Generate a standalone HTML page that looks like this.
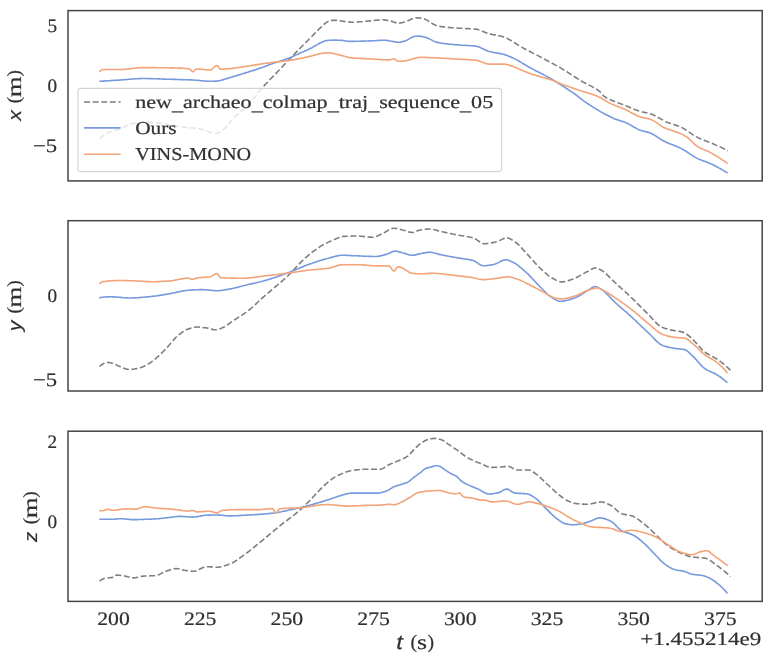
<!DOCTYPE html>
<html>
<head>
<meta charset="utf-8">
<title>Trajectory xyz plot</title>
<style>
html, body { margin: 0; padding: 0; background: #ffffff; }
body { width: 772px; height: 661px; overflow: hidden; font-family: "Liberation Serif", serif; }
svg { display: block; will-change: transform; }
svg text { text-rendering: geometricPrecision; }
</style>
</head>
<body>
<svg width="772" height="661" viewBox="0 0 772 661">
<rect x="0" y="0" width="772" height="661" fill="#ffffff"/>
<polyline points="99.5,138.6 100.5,137.8 101.5,137.0 102.5,136.2 103.5,135.4 104.5,134.7 105.5,134.1 106.5,133.5 106.6,133.5 107.5,133.1 108.5,132.6 109.5,132.2 110.5,131.9 111.5,131.5 112.5,131.2 113.5,130.9 114.5,130.6 115.5,130.3 116.5,130.0 117.5,129.7 118.5,129.4 119.5,129.1 120.5,128.7 121.5,128.4 122.2,128.1 122.5,128.0 123.5,127.5 124.5,127.0 125.5,126.5 126.5,125.9 127.5,125.4 128.5,125.0 129.5,124.6 130.0,124.4 130.5,124.2 131.5,123.9 132.5,123.7 133.5,123.4 134.5,123.2 135.5,123.0 136.5,122.8 137.0,122.8 137.5,122.8 138.5,122.7 139.5,122.6 140.5,122.6 141.5,122.5 142.5,122.4 143.5,122.4 144.5,122.4 145.5,122.3 146.5,122.3 147.5,122.3 148.0,122.3 148.5,122.3 149.5,122.3 150.5,122.4 151.5,122.4 152.5,122.5 153.5,122.6 154.5,122.7 155.5,122.8 156.5,122.9 157.5,123.0 158.5,123.1 159.5,123.3 160.5,123.4 161.5,123.5 162.5,123.7 163.5,123.8 164.5,123.9 165.0,124.0 165.5,124.1 166.5,124.2 167.5,124.4 168.5,124.5 169.5,124.7 170.5,124.9 171.5,125.1 172.5,125.3 173.5,125.5 174.5,125.7 175.5,125.9 176.5,126.1 177.5,126.3 178.5,126.4 179.5,126.6 180.5,126.8 181.5,127.0 182.5,127.1 183.3,127.2 183.5,127.2 184.5,127.3 185.5,127.4 186.5,127.5 187.5,127.6 188.5,127.7 189.5,127.8 190.5,127.9 191.5,128.0 192.5,128.0 193.5,128.1 194.5,128.2 195.5,128.3 196.5,128.4 197.5,128.5 198.5,128.6 199.5,128.8 199.6,128.8 200.5,129.0 201.5,129.2 202.5,129.5 203.5,129.8 204.5,130.2 205.5,130.6 206.5,130.9 207.5,131.3 208.5,131.7 209.5,132.1 210.5,132.5 211.5,132.8 212.5,133.1 213.5,133.3 214.5,133.4 215.5,133.5 215.9,133.5 216.5,133.5 217.5,133.2 218.5,132.8 219.5,132.3 220.5,131.6 221.5,131.0 222.5,130.3 222.9,130.0 223.5,129.6 224.5,128.7 225.5,127.8 226.5,126.7 227.5,125.6 228.5,124.4 229.5,123.1 230.5,121.9 231.5,120.6 232.5,119.4 233.5,118.3 234.5,117.2 234.6,117.1 235.5,116.2 236.5,115.3 237.5,114.3 238.5,113.4 239.5,112.5 240.5,111.7 241.5,110.8 242.5,109.9 243.5,109.0 244.5,108.1 245.5,107.2 246.5,106.3 247.5,105.3 248.5,104.3 249.5,103.2 250.5,102.1 251.5,101.0 252.5,99.8 253.5,98.6 254.5,97.4 255.5,96.2 256.5,94.9 257.5,93.7 258.5,92.4 259.5,91.2 260.5,90.0 261.5,88.8 262.5,87.6 263.5,86.5 264.5,85.4 265.5,84.3 266.5,83.2 267.5,82.2 268.5,81.1 269.5,80.1 270.5,79.0 271.5,78.0 272.5,77.0 273.5,75.9 274.5,74.9 275.5,73.9 276.5,72.8 276.7,72.6 277.5,71.8 278.5,70.7 279.5,69.7 280.5,68.6 281.5,67.6 282.5,66.5 283.5,65.5 284.5,64.4 285.5,63.4 286.5,62.4 287.5,61.3 288.5,60.3 289.5,59.2 290.0,58.7 290.5,58.2 291.5,57.1 292.5,56.1 293.5,55.0 294.5,54.0 295.5,52.9 296.5,51.9 297.5,50.8 298.5,49.8 299.5,48.7 300.4,47.8 300.5,47.7 301.5,46.7 302.5,45.7 303.5,44.7 304.5,43.7 305.5,42.7 306.5,41.7 307.5,40.7 308.5,39.7 309.5,38.7 310.5,37.7 310.7,37.5 311.5,36.7 312.5,35.7 313.5,34.6 314.5,33.6 315.5,32.6 316.5,31.6 317.5,30.6 318.5,29.6 319.5,28.6 320.5,27.6 321.1,27.1 321.5,26.7 322.5,25.8 323.5,24.8 324.5,23.9 325.5,23.1 326.5,22.4 327.3,21.9 327.5,21.8 328.5,21.3 329.5,20.9 330.5,20.5 331.5,20.4 332.5,20.4 333.5,20.4 334.5,20.4 335.5,20.4 336.5,20.4 336.6,20.4 337.5,20.4 338.5,20.5 339.5,20.7 340.5,20.8 341.5,21.0 342.5,21.2 343.5,21.4 343.9,21.4 344.5,21.5 345.5,21.6 346.5,21.7 347.5,21.9 348.5,22.0 349.5,22.1 350.5,22.1 351.5,22.2 352.2,22.2 352.5,22.2 353.5,22.2 354.5,22.2 355.5,22.1 356.5,22.0 357.5,22.0 358.5,21.9 359.5,21.8 360.5,21.8 361.5,21.7 362.5,21.6 363.5,21.5 364.5,21.4 365.5,21.3 366.5,21.2 367.5,21.1 368.5,21.0 369.5,20.9 370.0,20.9 370.5,20.9 371.5,20.7 372.5,20.6 373.5,20.5 374.5,20.4 375.5,20.3 376.5,20.2 377.5,20.1 378.5,20.0 379.5,19.9 380.5,19.8 381.5,19.8 382.2,19.8 382.5,19.8 383.5,19.8 384.5,19.9 385.5,20.1 386.5,20.2 387.5,20.4 388.5,20.6 389.2,20.7 389.5,20.8 390.5,21.0 391.5,21.3 392.5,21.6 393.5,22.0 394.5,22.3 395.5,22.6 396.5,22.9 397.5,23.0 398.5,23.1 399.5,23.1 400.5,22.9 401.5,22.7 402.5,22.5 403.5,22.2 404.5,22.0 405.5,21.7 406.5,21.4 407.5,21.0 408.5,20.5 409.5,20.0 410.5,19.5 411.5,19.1 412.5,18.7 413.5,18.4 413.7,18.4 414.5,18.3 415.5,18.1 416.5,18.0 417.5,17.9 418.2,17.9 418.5,17.9 419.5,18.0 420.5,18.1 421.5,18.3 422.5,18.5 423.5,18.8 424.0,18.9 424.5,19.0 425.5,19.4 426.5,19.9 427.5,20.5 428.5,21.1 429.5,21.8 430.5,22.4 431.5,23.1 432.5,23.7 433.5,24.3 434.5,24.8 435.5,25.2 435.6,25.2 436.5,25.5 437.5,25.8 438.5,26.0 439.5,26.2 440.5,26.5 441.5,26.6 442.5,26.8 442.6,26.8 443.5,26.9 444.5,27.0 445.5,27.1 446.5,27.3 447.5,27.4 448.5,27.4 449.5,27.5 450.5,27.6 451.5,27.7 452.5,27.8 453.5,27.8 454.5,27.9 455.5,28.0 456.5,28.0 457.5,28.1 458.5,28.2 459.0,28.2 459.5,28.2 460.5,28.3 461.5,28.3 462.5,28.4 463.5,28.4 464.5,28.5 465.5,28.5 466.5,28.6 467.5,28.6 468.5,28.6 469.5,28.7 470.5,28.7 471.5,28.8 472.5,28.9 473.5,28.9 474.5,29.0 475.3,29.1 475.5,29.1 476.5,29.3 477.5,29.5 478.5,29.8 479.5,30.1 480.5,30.4 481.5,30.8 482.5,31.2 483.5,31.7 484.5,32.1 485.5,32.5 486.5,32.9 487.5,33.2 488.5,33.6 489.3,33.8 489.5,33.9 490.5,34.1 491.5,34.3 492.5,34.5 493.5,34.7 494.5,34.9 495.5,35.1 496.5,35.3 497.5,35.4 498.5,35.6 499.5,35.8 500.5,36.1 501.5,36.3 502.5,36.6 503.3,36.8 503.5,36.9 504.5,37.2 505.5,37.6 506.5,38.1 507.5,38.6 508.5,39.2 509.5,39.7 510.5,40.3 511.5,40.9 512.5,41.4 512.6,41.5 513.5,42.0 514.5,42.7 515.5,43.3 516.5,44.0 517.5,44.6 518.5,45.3 519.5,45.9 520.0,46.2 520.5,46.5 521.5,47.1 522.5,47.6 523.5,48.2 524.5,48.7 525.5,49.3 526.5,49.8 527.5,50.3 528.5,50.8 529.5,51.3 530.5,51.8 531.5,52.4 532.5,52.9 533.5,53.4 534.5,53.9 535.5,54.4 536.5,54.9 537.5,55.4 538.5,55.9 539.5,56.5 540.5,57.0 540.7,57.1 541.5,57.5 542.5,58.1 543.5,58.6 544.5,59.1 545.5,59.7 546.5,60.2 547.5,60.7 548.5,61.3 549.5,61.8 550.5,62.4 551.5,62.9 552.5,63.4 553.5,64.0 554.5,64.5 555.5,65.1 556.5,65.6 557.5,66.2 558.5,66.8 559.5,67.3 560.5,67.9 561.5,68.5 562.5,69.1 563.5,69.7 564.5,70.3 565.5,70.9 566.5,71.5 567.5,72.2 568.5,72.8 569.5,73.4 570.5,74.1 571.5,74.7 572.5,75.4 573.5,76.0 574.5,76.7 575.5,77.3 576.5,78.0 577.5,78.6 578.5,79.2 579.5,79.8 580.5,80.5 581.5,81.1 582.2,81.5 582.5,81.7 583.5,82.3 584.5,82.8 585.5,83.3 586.5,83.9 587.5,84.4 588.5,84.9 589.5,85.4 590.5,85.9 591.5,86.4 592.5,86.9 593.5,87.5 594.5,88.0 595.5,88.6 596.5,89.3 597.5,89.9 598.5,90.6 599.5,91.4 600.0,91.8 600.5,92.3 601.5,93.4 602.5,94.7 603.5,95.8 603.9,96.1 604.5,96.5 605.5,97.2 606.5,97.8 607.5,98.3 608.5,98.9 609.5,99.4 610.5,99.8 611.5,100.3 612.5,100.7 613.5,101.1 614.5,101.5 615.5,101.9 616.5,102.3 617.5,102.6 618.5,103.0 619.5,103.3 620.5,103.7 621.5,104.0 622.5,104.4 623.5,104.8 624.5,105.1 625.5,105.5 625.9,105.7 626.5,106.0 627.5,106.4 628.5,106.8 629.5,107.2 630.5,107.7 631.5,108.1 632.5,108.5 633.5,109.0 634.5,109.4 635.5,109.8 636.5,110.1 637.5,110.5 638.5,110.9 639.5,111.2 639.6,111.2 640.5,111.5 641.5,111.7 642.5,112.0 643.5,112.2 644.5,112.4 645.5,112.6 646.5,112.8 647.5,113.1 648.5,113.3 649.5,113.6 650.5,113.9 650.6,113.9 651.5,114.2 652.5,114.6 653.5,115.0 654.5,115.5 655.5,116.0 656.5,116.5 657.5,117.1 658.5,117.7 659.5,118.2 660.5,118.8 661.5,119.4 662.5,119.9 663.5,120.5 664.5,121.0 665.5,121.5 666.5,121.9 667.1,122.2 667.5,122.4 668.5,122.8 669.5,123.1 670.5,123.5 671.5,123.8 672.5,124.1 673.5,124.4 674.5,124.8 675.5,125.1 676.5,125.4 677.5,125.8 678.5,126.1 679.5,126.5 680.5,127.0 680.8,127.1 681.5,127.4 682.5,127.9 683.5,128.5 684.5,129.1 685.5,129.7 686.5,130.4 687.5,131.0 688.5,131.7 689.5,132.4 690.5,133.1 691.5,133.8 692.5,134.5 693.5,135.1 694.5,135.7 695.5,136.3 696.5,136.9 697.3,137.3 697.5,137.4 698.5,137.9 699.5,138.3 700.5,138.8 701.5,139.2 702.5,139.6 703.5,140.0 704.5,140.4 705.5,140.8 706.5,141.2 707.5,141.6 708.5,141.9 709.5,142.3 710.5,142.7 711.5,143.1 712.5,143.5 713.5,144.0 713.8,144.1 714.5,144.4 715.5,144.9 716.5,145.3 717.5,145.8 718.5,146.2 719.5,146.7 720.5,147.1 721.5,147.6 722.5,148.1 723.5,148.6 724.5,149.0 725.5,149.5 726.5,150.0 727.5,150.5 727.9,150.7" fill="none" stroke="#7f7f7f" stroke-width="1.62" stroke-linejoin="round" stroke-dasharray="6.0 2.6"/>
<polyline points="99.3,81.3 100.3,81.2 101.3,81.2 102.3,81.1 103.3,81.1 104.3,81.0 105.3,80.9 106.3,80.9 107.3,80.8 108.3,80.7 109.3,80.7 110.3,80.6 111.3,80.6 112.3,80.5 113.3,80.4 114.3,80.4 115.3,80.3 116.3,80.3 117.3,80.2 118.3,80.1 119.3,80.1 120.3,80.0 121.3,79.9 122.3,79.9 123.3,79.8 124.3,79.7 125.3,79.6 126.3,79.5 127.3,79.5 128.3,79.4 129.3,79.3 130.3,79.2 131.3,79.1 132.3,79.0 133.3,79.0 134.3,78.9 135.3,78.8 136.3,78.8 137.3,78.7 138.3,78.6 139.3,78.6 140.3,78.6 141.3,78.5 142.3,78.5 143.3,78.5 143.6,78.5 144.3,78.5 145.3,78.5 146.3,78.5 147.3,78.5 148.3,78.6 149.3,78.6 150.3,78.6 151.3,78.6 152.3,78.7 153.3,78.7 154.3,78.7 155.3,78.8 156.3,78.8 157.3,78.8 158.3,78.9 159.3,78.9 160.3,79.0 161.3,79.0 162.3,79.0 163.3,79.1 164.3,79.1 165.3,79.1 166.3,79.2 166.9,79.2 167.3,79.2 168.3,79.2 169.3,79.3 170.3,79.3 171.3,79.3 172.3,79.4 173.3,79.4 174.3,79.4 175.3,79.4 176.3,79.5 177.3,79.5 178.3,79.5 179.3,79.5 180.3,79.6 181.3,79.6 182.3,79.6 183.3,79.7 184.3,79.7 185.3,79.7 186.3,79.8 187.3,79.8 188.3,79.8 189.3,79.9 190.3,79.9 191.3,79.9 192.3,80.0 192.6,80.0 193.3,80.0 194.3,80.1 195.3,80.2 196.3,80.2 197.3,80.3 198.3,80.4 199.3,80.5 200.3,80.6 201.3,80.7 202.3,80.8 203.3,80.9 204.3,81.0 205.3,81.0 206.3,81.1 207.3,81.2 208.3,81.2 209.3,81.3 210.3,81.3 211.2,81.3 211.3,81.3 212.3,81.3 213.3,81.3 214.3,81.2 215.3,81.1 216.3,81.1 217.3,81.0 218.2,80.9 218.3,80.9 219.3,80.7 220.3,80.5 221.3,80.2 222.3,79.9 223.3,79.6 224.3,79.3 225.2,79.0 225.3,79.0 226.3,78.7 227.3,78.4 228.3,78.1 229.3,77.8 230.3,77.5 231.3,77.2 232.3,76.9 233.3,76.6 234.3,76.3 235.3,76.0 236.3,75.7 237.3,75.4 238.3,75.1 239.3,74.8 240.3,74.5 241.3,74.2 242.3,73.8 243.3,73.5 244.3,73.2 245.3,72.9 246.3,72.6 247.3,72.3 248.3,72.0 248.5,71.9 249.3,71.6 250.3,71.3 251.3,71.0 252.3,70.7 253.3,70.4 254.3,70.1 255.3,69.8 256.3,69.5 257.3,69.1 258.3,68.8 259.3,68.5 260.3,68.1 261.3,67.8 262.3,67.5 263.3,67.1 264.3,66.7 265.3,66.3 266.3,65.9 267.3,65.5 268.3,65.1 269.3,64.7 270.3,64.3 270.7,64.2 271.3,64.0 272.3,63.6 273.3,63.3 274.3,62.9 275.3,62.6 276.3,62.3 277.3,62.0 278.3,61.7 279.3,61.3 280.3,61.0 281.3,60.7 282.3,60.4 283.3,60.1 284.3,59.7 285.3,59.4 286.3,59.1 287.3,58.7 288.3,58.3 289.3,58.0 290.0,57.7 290.3,57.6 291.3,57.2 292.3,56.7 293.3,56.3 294.3,55.8 295.3,55.4 296.3,54.9 297.3,54.4 298.3,54.0 299.3,53.5 300.3,53.0 300.4,53.0 301.3,52.6 302.3,52.1 303.3,51.7 304.3,51.3 305.3,50.8 306.3,50.4 307.3,49.9 308.3,49.5 309.3,49.0 310.3,48.5 310.7,48.3 311.3,48.0 312.3,47.5 313.3,46.9 314.3,46.3 315.3,45.7 316.3,45.1 317.3,44.6 318.3,44.0 319.3,43.5 320.3,43.0 321.1,42.6 321.3,42.5 322.3,42.0 323.3,41.6 324.3,41.1 325.3,40.8 326.3,40.6 327.3,40.5 328.3,40.4 329.3,40.3 330.3,40.2 331.3,40.2 332.3,40.1 333.3,40.1 333.5,40.1 334.3,40.1 335.3,40.1 336.3,40.1 337.3,40.2 338.3,40.2 339.3,40.3 340.3,40.3 341.3,40.4 341.8,40.4 342.3,40.4 343.3,40.5 344.3,40.7 345.3,40.8 346.3,41.0 347.3,41.2 348.3,41.3 349.3,41.4 350.1,41.4 350.3,41.4 351.3,41.4 352.3,41.4 353.3,41.4 354.3,41.3 355.3,41.3 356.3,41.3 357.3,41.3 358.3,41.2 359.3,41.2 360.3,41.2 361.3,41.1 362.3,41.1 362.5,41.1 363.3,41.1 364.3,41.1 365.3,41.0 366.3,41.0 367.3,41.0 368.3,41.0 369.3,40.9 370.0,40.9 370.3,40.9 371.3,40.9 372.3,40.8 373.3,40.8 374.3,40.7 375.3,40.7 376.3,40.6 377.3,40.5 378.3,40.5 379.3,40.4 380.3,40.4 381.3,40.4 382.3,40.3 383.3,40.3 384.3,40.3 384.6,40.3 385.3,40.3 386.3,40.4 387.3,40.5 388.3,40.6 389.3,40.8 390.3,41.0 391.3,41.2 392.3,41.4 393.3,41.6 394.3,41.8 395.3,41.9 396.3,42.1 397.3,42.2 398.3,42.2 398.5,42.2 399.3,42.2 400.3,42.1 401.3,41.9 402.3,41.7 403.3,41.4 404.3,41.1 405.3,40.9 405.5,40.8 406.3,40.5 407.3,40.0 408.3,39.4 409.3,38.8 410.3,38.1 411.3,37.5 412.3,37.0 413.3,36.7 413.7,36.6 414.3,36.5 415.3,36.3 416.3,36.2 417.3,36.1 418.2,36.1 418.3,36.1 419.3,36.1 420.3,36.3 421.3,36.4 422.3,36.6 423.3,36.8 424.3,37.1 425.2,37.3 425.3,37.3 426.3,37.6 427.3,38.0 428.3,38.4 429.3,38.9 430.3,39.4 431.3,39.9 432.3,40.4 433.3,40.9 434.3,41.4 435.3,41.8 436.3,42.1 437.3,42.4 438.0,42.6 438.3,42.7 439.3,42.8 440.3,43.0 441.3,43.2 442.3,43.3 443.3,43.5 444.3,43.6 445.3,43.7 446.3,43.8 447.3,43.9 448.3,44.1 449.3,44.2 450.3,44.3 451.3,44.3 452.3,44.4 453.3,44.5 454.3,44.6 455.3,44.7 456.3,44.8 457.3,44.9 458.3,44.9 459.0,45.0 459.3,45.0 460.3,45.1 461.3,45.2 462.3,45.2 463.3,45.3 464.3,45.3 465.3,45.4 466.3,45.4 467.3,45.5 468.3,45.5 469.3,45.6 470.3,45.7 471.3,45.7 472.3,45.8 473.3,45.9 474.3,46.0 475.3,46.1 476.3,46.3 477.3,46.5 478.3,46.8 479.3,47.2 480.3,47.6 481.3,48.1 482.3,48.5 483.3,49.0 484.3,49.5 485.3,50.0 486.3,50.4 487.3,50.8 488.3,51.2 489.3,51.5 490.3,51.8 491.3,52.0 492.3,52.2 493.3,52.4 494.3,52.6 495.3,52.7 496.3,52.9 497.3,53.1 498.3,53.2 499.3,53.4 500.3,53.6 501.3,53.8 502.3,54.0 503.3,54.3 504.3,54.6 505.3,54.9 506.3,55.2 507.3,55.6 508.3,56.0 509.3,56.4 510.3,56.8 511.3,57.2 512.3,57.7 512.6,57.8 513.3,58.1 514.3,58.6 515.3,59.1 516.3,59.6 517.3,60.1 518.3,60.7 519.3,61.3 520.3,61.9 521.3,62.5 522.3,63.1 523.3,63.7 524.3,64.3 525.3,64.9 526.3,65.5 527.3,66.1 528.3,66.7 529.3,67.2 530.3,67.8 531.2,68.3 531.3,68.4 532.3,68.9 533.3,69.4 534.3,69.9 535.3,70.5 536.3,71.0 537.3,71.5 538.3,72.0 539.3,72.5 540.3,73.0 541.3,73.5 542.3,74.0 543.3,74.5 544.3,75.1 545.3,75.6 546.3,76.1 547.3,76.7 548.3,77.2 549.3,77.8 549.9,78.1 550.3,78.3 551.3,78.9 552.3,79.5 553.3,80.1 554.3,80.7 555.3,81.3 556.3,82.0 557.3,82.6 558.3,83.2 559.3,83.9 560.0,84.3 560.3,84.5 561.3,85.1 562.3,85.8 563.3,86.4 564.3,87.0 565.3,87.7 566.3,88.3 567.3,89.0 568.3,89.6 569.3,90.3 570.3,91.0 571.3,91.6 572.3,92.3 573.3,93.0 573.7,93.3 574.3,93.7 575.3,94.5 576.3,95.2 577.3,96.0 578.3,96.8 579.3,97.5 580.3,98.3 581.3,99.1 582.3,99.9 583.3,100.6 584.3,101.3 584.7,101.6 585.3,102.0 586.3,102.7 587.3,103.4 588.3,104.0 589.3,104.7 590.3,105.4 591.3,106.0 592.3,106.7 593.3,107.3 594.3,107.9 595.3,108.5 596.3,109.1 597.3,109.7 598.3,110.3 599.3,110.9 600.3,111.5 601.2,112.0 601.3,112.1 602.3,112.6 603.3,113.2 604.3,113.7 605.3,114.3 606.3,114.8 607.3,115.3 608.3,115.8 609.3,116.3 610.3,116.8 611.3,117.3 612.3,117.8 613.3,118.2 614.3,118.7 614.9,118.9 615.3,119.1 616.3,119.4 617.3,119.8 618.3,120.1 619.3,120.4 620.3,120.8 621.3,121.1 622.3,121.4 623.3,121.7 624.3,122.1 625.3,122.5 625.9,122.7 626.3,122.9 627.3,123.3 628.3,123.8 629.3,124.4 630.3,124.9 631.3,125.5 632.3,126.1 633.3,126.7 634.3,127.3 635.3,127.8 636.3,128.4 637.3,128.9 638.3,129.4 639.3,129.8 639.6,129.9 640.3,130.2 641.3,130.5 642.3,130.8 643.3,131.1 644.3,131.3 645.3,131.6 646.3,131.8 647.3,132.1 648.3,132.4 649.3,132.7 650.3,133.1 650.6,133.2 651.3,133.5 652.3,134.0 653.3,134.5 654.3,135.1 655.3,135.7 656.3,136.3 657.3,137.0 658.3,137.7 659.3,138.3 660.3,139.0 661.3,139.6 662.3,140.2 663.3,140.8 664.3,141.4 664.4,141.4 665.3,141.8 666.3,142.3 667.3,142.7 668.3,143.2 669.3,143.6 670.3,144.0 671.3,144.3 672.3,144.7 673.3,145.1 674.3,145.5 675.3,145.9 676.3,146.3 677.3,146.7 678.3,147.1 679.3,147.6 680.3,148.1 680.8,148.3 681.3,148.6 682.3,149.1 683.3,149.7 684.3,150.3 685.3,150.9 686.3,151.5 687.3,152.2 688.3,152.9 689.3,153.6 690.3,154.2 691.3,154.9 692.3,155.5 693.3,156.2 694.3,156.8 695.3,157.4 696.3,157.9 697.3,158.4 698.3,158.9 699.3,159.3 700.3,159.7 701.3,160.1 702.3,160.5 703.3,160.9 704.3,161.2 705.3,161.6 706.3,162.0 707.3,162.4 708.3,162.7 709.3,163.2 710.3,163.6 711.0,163.9 711.3,164.0 712.3,164.5 713.3,165.0 714.3,165.5 715.3,166.0 716.3,166.5 717.3,167.0 718.3,167.6 719.3,168.1 720.3,168.7 721.3,169.3 722.3,169.9 723.3,170.4 724.3,171.0 725.3,171.7 726.3,172.3 727.3,172.9 727.6,173.1" fill="none" stroke="#779ade" stroke-width="1.62" stroke-linejoin="round"/>
<polyline points="99.3,71.8 100.3,71.0 101.3,70.1 102.3,69.6 102.8,69.5 103.3,69.5 104.3,69.5 105.3,69.5 106.3,69.5 107.3,69.5 108.3,69.5 109.3,69.5 110.3,69.5 111.3,69.5 112.3,69.5 113.3,69.5 114.3,69.5 115.3,69.5 116.3,69.5 117.3,69.5 118.3,69.5 119.3,69.5 120.3,69.5 121.3,69.5 122.3,69.5 123.3,69.4 124.3,69.4 125.3,69.3 126.3,69.2 127.3,69.1 128.3,69.0 129.3,68.9 130.3,68.8 131.3,68.6 132.3,68.5 133.3,68.4 134.3,68.3 135.3,68.2 136.3,68.0 137.3,67.9 138.3,67.9 139.3,67.8 140.3,67.7 141.3,67.7 142.3,67.6 143.3,67.6 143.6,67.6 144.3,67.6 145.3,67.6 146.3,67.6 147.3,67.6 148.3,67.6 149.3,67.6 150.3,67.6 151.3,67.6 152.3,67.6 153.3,67.6 154.3,67.6 155.3,67.7 156.3,67.7 157.3,67.7 158.3,67.7 159.3,67.7 160.3,67.7 161.3,67.7 162.3,67.7 163.3,67.7 164.3,67.8 165.3,67.8 166.3,67.8 166.9,67.8 167.3,67.8 168.3,67.8 169.3,67.8 170.3,67.9 171.3,67.9 172.3,67.9 173.3,67.9 174.3,67.9 175.3,68.0 176.3,68.0 177.3,68.0 178.3,68.1 179.3,68.1 180.3,68.1 181.3,68.2 182.3,68.2 183.3,68.3 184.3,68.4 185.3,68.5 186.3,68.5 187.3,68.6 188.3,68.7 189.1,68.8 189.3,68.8 190.3,69.5 191.3,70.6 192.3,71.5 193.1,71.8 193.3,71.8 194.3,70.8 195.3,69.5 196.1,69.0 196.3,69.0 197.3,69.0 198.3,69.1 199.3,69.1 200.3,69.2 201.3,69.3 202.3,69.4 203.3,69.5 204.3,69.6 205.3,69.7 206.3,69.7 207.3,69.8 208.3,69.9 209.3,69.9 210.1,69.9 210.3,69.9 211.3,69.6 212.3,68.9 213.3,68.0 214.3,67.0 215.3,66.2 216.3,65.7 217.1,65.5 217.3,65.5 218.3,66.5 219.3,68.0 220.3,69.1 220.6,69.2 221.3,69.2 222.3,69.2 223.3,69.1 224.3,69.1 225.3,69.0 226.3,69.0 227.3,68.9 228.3,68.8 229.3,68.7 230.3,68.6 231.3,68.5 232.3,68.4 233.3,68.2 234.3,68.1 235.3,68.0 236.3,67.8 237.3,67.7 238.3,67.5 239.3,67.4 240.3,67.2 241.3,67.1 242.3,66.9 243.3,66.8 244.3,66.6 245.3,66.5 246.3,66.3 247.3,66.2 248.3,66.0 248.5,66.0 249.3,65.9 250.3,65.7 251.3,65.6 252.3,65.4 253.3,65.3 254.3,65.1 255.3,64.9 256.3,64.7 257.3,64.6 258.3,64.4 259.3,64.2 260.3,64.1 261.3,63.9 262.3,63.7 263.3,63.6 264.3,63.5 265.3,63.3 266.3,63.2 267.3,63.1 268.3,62.9 269.3,62.8 270.3,62.7 271.3,62.6 272.3,62.5 273.3,62.3 274.3,62.2 275.3,62.1 276.3,62.0 277.3,61.9 278.3,61.8 279.3,61.7 280.3,61.6 281.3,61.4 282.3,61.3 283.3,61.2 284.3,61.1 285.3,60.9 286.3,60.8 287.3,60.7 288.3,60.5 289.3,60.4 290.0,60.3 290.3,60.3 291.3,60.1 292.3,59.9 293.3,59.8 294.3,59.6 295.3,59.4 296.3,59.3 297.3,59.1 298.3,58.9 299.3,58.7 300.3,58.5 300.4,58.5 301.3,58.3 302.3,58.1 303.3,57.9 304.3,57.7 305.3,57.4 306.3,57.2 307.3,56.9 308.3,56.7 309.3,56.4 310.3,56.2 310.7,56.1 311.3,56.0 312.3,55.7 313.3,55.4 314.3,55.1 315.3,54.8 316.3,54.6 317.3,54.3 318.3,54.0 319.3,53.8 320.3,53.6 321.1,53.5 321.3,53.5 322.3,53.3 323.3,53.2 324.3,53.1 325.3,53.0 326.3,52.9 327.3,52.8 328.3,52.8 329.3,52.8 330.3,52.9 331.3,53.1 332.3,53.3 333.3,53.5 334.3,53.7 335.3,53.9 335.6,54.0 336.3,54.1 337.3,54.4 338.3,54.6 339.3,54.9 340.3,55.1 341.3,55.4 342.3,55.7 343.3,55.9 343.9,56.1 344.3,56.2 345.3,56.5 346.3,56.8 347.3,57.1 348.3,57.4 349.3,57.6 350.1,57.7 350.3,57.7 351.3,57.8 352.3,57.9 353.3,58.0 354.3,58.1 355.3,58.1 356.3,58.2 357.3,58.2 358.3,58.3 359.3,58.3 360.3,58.4 360.5,58.4 361.3,58.4 362.3,58.5 363.3,58.6 364.3,58.6 365.3,58.7 366.3,58.7 367.3,58.8 368.3,58.8 369.3,58.9 370.0,58.9 370.3,58.9 371.3,59.0 372.3,59.0 373.3,59.1 374.3,59.2 375.3,59.2 376.3,59.3 377.3,59.4 378.3,59.4 379.3,59.5 380.3,59.6 381.3,59.6 382.3,59.7 383.3,59.7 384.3,59.8 385.3,59.8 386.3,59.9 387.3,59.9 388.3,59.9 389.2,59.9 389.3,59.9 390.3,59.8 391.3,59.5 392.3,59.2 393.3,59.0 393.9,59.0 394.3,59.0 395.3,59.5 396.3,60.2 397.3,60.9 398.3,61.3 398.5,61.3 399.3,61.3 400.3,61.3 401.3,61.2 402.3,61.1 403.3,61.0 404.3,60.9 405.3,60.8 405.5,60.8 406.3,60.7 407.3,60.5 408.3,60.3 409.3,60.0 410.3,59.7 411.3,59.4 412.3,59.1 413.3,58.8 414.3,58.4 415.3,58.1 416.3,57.9 417.3,57.7 418.3,57.5 419.3,57.4 420.3,57.3 420.5,57.3 421.3,57.3 422.3,57.3 423.3,57.3 424.3,57.4 425.3,57.4 426.3,57.5 427.3,57.5 428.3,57.5 429.3,57.6 430.3,57.7 431.3,57.7 432.3,57.8 433.3,57.8 434.3,57.8 435.3,57.9 436.3,57.9 437.3,58.0 438.3,58.0 439.3,58.1 440.3,58.1 441.3,58.2 442.3,58.2 443.3,58.3 444.3,58.3 445.3,58.4 446.3,58.4 447.3,58.5 448.3,58.5 449.3,58.6 450.3,58.6 451.3,58.7 452.3,58.7 453.3,58.8 454.3,58.9 455.3,58.9 456.3,59.0 456.6,59.0 457.3,59.0 458.3,59.1 459.3,59.2 460.3,59.2 461.3,59.3 462.3,59.3 463.3,59.4 464.3,59.4 465.3,59.5 466.3,59.5 467.3,59.6 468.3,59.7 469.3,59.7 470.3,59.8 471.3,59.9 472.3,60.0 473.3,60.1 474.3,60.2 475.3,60.3 476.3,60.4 476.4,60.4 477.3,60.5 478.3,60.8 479.3,61.1 480.3,61.4 481.3,61.8 482.3,62.2 483.3,62.6 484.3,63.0 485.3,63.4 486.3,63.7 487.3,63.9 488.3,64.0 489.3,64.1 490.3,64.1 491.3,64.1 492.3,64.1 493.3,64.1 494.3,64.1 495.3,64.1 496.3,64.1 497.3,64.1 498.3,64.1 499.3,64.1 500.3,64.1 501.3,64.1 502.3,64.1 503.3,64.1 504.3,64.1 505.3,64.3 506.3,64.4 507.3,64.7 508.3,64.9 509.3,65.2 510.3,65.6 511.3,65.9 512.3,66.2 512.6,66.3 513.3,66.5 514.3,66.9 515.3,67.3 516.3,67.8 517.3,68.3 518.3,68.7 519.3,69.2 520.0,69.5 520.3,69.6 521.3,70.0 522.3,70.5 523.3,70.9 524.3,71.3 525.3,71.7 526.3,72.1 527.3,72.5 528.3,72.9 529.3,73.3 530.3,73.7 530.4,73.7 531.3,74.0 532.3,74.3 533.3,74.6 534.3,74.9 535.3,75.2 536.3,75.5 537.3,75.8 538.3,76.1 539.3,76.4 540.3,76.7 540.7,76.8 541.3,77.0 542.3,77.3 543.3,77.6 544.3,77.8 545.3,78.1 546.3,78.4 547.3,78.7 548.3,79.0 549.3,79.3 550.3,79.6 551.1,79.9 551.3,80.0 552.3,80.3 553.3,80.7 554.3,81.1 555.3,81.5 556.3,81.9 557.3,82.3 558.3,82.7 559.3,83.1 560.3,83.5 561.3,83.9 561.5,84.0 562.3,84.3 563.3,84.7 564.3,85.0 565.3,85.4 566.3,85.8 567.3,86.1 568.3,86.5 569.3,86.8 570.3,87.2 571.3,87.5 571.8,87.7 572.3,87.9 573.3,88.2 574.3,88.6 575.3,88.9 576.3,89.3 577.3,89.6 578.3,90.0 579.3,90.3 580.3,90.7 581.3,91.0 582.2,91.3 582.3,91.3 583.3,91.6 584.3,91.9 585.3,92.2 586.3,92.5 587.3,92.8 588.3,93.1 589.3,93.4 590.3,93.7 591.3,94.0 592.3,94.3 592.5,94.4 593.3,94.7 594.3,95.1 595.3,95.4 596.3,95.8 597.3,96.3 598.3,96.7 599.3,97.2 600.0,97.5 600.3,97.6 601.3,98.2 602.3,98.7 603.3,99.4 604.3,100.0 605.3,100.6 606.3,101.2 607.3,101.9 608.3,102.4 609.3,103.0 609.4,103.0 610.3,103.4 611.3,103.9 612.3,104.3 613.3,104.8 614.3,105.2 615.3,105.6 616.3,106.0 617.3,106.3 618.3,106.7 619.3,107.1 620.3,107.5 621.3,107.9 622.3,108.3 623.3,108.7 624.3,109.1 625.3,109.5 625.9,109.8 626.3,110.0 627.3,110.5 628.3,111.0 629.3,111.5 630.3,112.1 631.3,112.7 632.3,113.2 633.3,113.8 634.3,114.3 635.3,114.8 636.3,115.3 637.3,115.8 638.3,116.2 639.3,116.6 639.6,116.7 640.3,116.9 641.3,117.2 642.3,117.4 643.3,117.7 644.3,117.9 645.3,118.1 646.3,118.3 647.3,118.5 648.3,118.7 649.3,119.0 650.3,119.3 650.6,119.4 651.3,119.7 652.3,120.1 653.3,120.6 654.3,121.2 655.3,121.9 656.3,122.5 657.3,123.2 658.3,123.9 659.3,124.6 660.3,125.3 661.3,126.0 662.3,126.6 663.3,127.2 664.3,127.7 664.4,127.7 665.3,128.1 666.3,128.5 667.3,128.9 668.3,129.3 669.3,129.6 670.3,130.0 671.3,130.3 672.3,130.6 673.3,130.9 674.3,131.3 675.3,131.6 676.3,131.9 677.3,132.3 678.3,132.7 679.3,133.1 680.3,133.5 680.8,133.7 681.3,133.9 682.3,134.4 683.3,134.9 684.3,135.5 685.3,136.1 686.3,136.7 687.3,137.4 688.3,138.2 689.3,139.1 690.3,140.1 691.3,141.0 692.3,142.0 693.3,143.0 694.3,143.9 695.3,144.8 696.3,145.6 697.3,146.3 698.3,146.9 699.3,147.5 700.3,148.0 701.3,148.5 702.3,148.9 703.3,149.4 704.3,149.8 705.3,150.2 706.3,150.7 707.3,151.1 708.3,151.5 709.3,152.0 710.3,152.5 711.0,152.9 711.3,153.1 712.3,153.6 713.3,154.2 714.3,154.8 715.3,155.4 716.3,156.0 717.3,156.6 718.3,157.2 719.3,157.9 720.3,158.5 721.3,159.2 722.3,159.9 723.3,160.5 724.3,161.2 725.3,161.9 726.3,162.7 727.3,163.4 727.6,163.6" fill="none" stroke="#f3a479" stroke-width="1.62" stroke-linejoin="round"/>
<polyline points="99.5,366.4 100.5,365.6 101.5,364.8 102.5,364.2 103.5,363.6 104.5,363.1 105.5,362.8 106.5,362.6 107.5,362.5 108.5,362.5 109.5,362.6 110.5,362.8 111.5,363.0 112.5,363.2 113.3,363.4 113.5,363.5 114.5,363.8 115.5,364.4 116.5,364.9 117.5,365.5 118.0,365.7 118.5,365.9 119.5,366.3 120.5,366.8 121.5,367.2 122.5,367.7 123.5,368.1 124.5,368.4 125.5,368.8 126.5,369.1 127.5,369.3 128.5,369.4 129.5,369.5 129.6,369.5 130.5,369.5 131.5,369.4 132.5,369.3 133.5,369.2 134.5,369.0 135.5,368.8 136.5,368.6 137.5,368.4 138.5,368.2 139.0,368.1 139.5,368.0 140.5,367.7 141.5,367.3 142.5,367.0 143.5,366.5 144.5,366.0 145.5,365.5 146.5,365.0 147.5,364.4 148.5,363.8 149.5,363.2 150.5,362.6 150.6,362.5 151.5,361.9 152.5,361.2 153.5,360.5 154.5,359.7 155.5,358.8 156.5,357.9 157.5,357.0 158.5,356.1 159.5,355.1 160.5,354.1 161.5,353.2 162.5,352.2 163.5,351.2 164.5,350.2 164.6,350.1 165.5,349.2 166.5,348.1 167.5,347.0 168.5,345.9 169.5,344.7 170.5,343.5 171.5,342.3 172.5,341.2 173.5,340.0 174.5,338.9 175.5,337.8 176.5,336.8 177.5,335.9 178.5,335.1 178.6,335.0 179.5,334.3 180.5,333.5 181.5,332.8 182.5,332.0 183.5,331.4 184.5,330.7 185.5,330.2 186.5,329.7 187.5,329.2 187.9,329.1 188.5,328.9 189.5,328.6 190.5,328.3 191.5,328.0 192.5,327.7 193.5,327.4 194.5,327.3 195.5,327.1 196.5,327.0 197.3,327.0 197.5,327.0 198.5,327.0 199.5,327.1 200.5,327.2 201.5,327.3 202.5,327.4 203.5,327.6 204.5,327.7 205.5,327.8 206.5,328.0 206.6,328.0 207.5,328.1 208.5,328.4 209.5,328.6 210.5,328.9 211.5,329.1 212.5,329.4 213.5,329.6 214.5,329.7 215.5,329.8 215.9,329.8 216.5,329.8 217.5,329.6 218.5,329.3 219.5,329.0 220.5,328.6 221.5,328.1 222.5,327.7 222.9,327.5 223.5,327.2 224.5,326.7 225.5,326.2 226.5,325.5 227.5,324.9 228.5,324.2 229.5,323.5 230.5,322.7 231.5,322.0 232.5,321.3 233.5,320.6 234.5,319.9 234.6,319.8 235.5,319.2 236.5,318.6 237.5,317.9 238.5,317.3 239.5,316.6 240.5,316.0 241.5,315.4 242.5,314.7 243.5,314.1 244.5,313.4 245.5,312.7 246.5,312.0 247.5,311.3 248.5,310.5 249.5,309.7 250.5,308.9 251.5,308.0 252.5,307.1 253.5,306.2 254.5,305.3 255.5,304.4 256.5,303.4 257.5,302.5 258.5,301.5 259.5,300.6 260.5,299.6 261.5,298.7 262.5,297.8 263.3,297.1 263.5,296.9 264.5,296.1 265.5,295.2 266.5,294.3 267.5,293.5 268.5,292.6 269.5,291.8 270.5,290.9 271.5,290.1 272.5,289.3 273.5,288.4 274.5,287.6 275.5,286.7 276.5,285.9 277.5,285.0 278.5,284.1 279.5,283.3 280.5,282.4 281.5,281.6 282.5,280.7 283.5,279.8 284.5,278.9 285.5,278.0 286.5,277.1 286.6,277.0 287.5,276.2 288.5,275.2 289.5,274.2 290.5,273.2 291.5,272.2 292.5,271.2 293.5,270.1 294.5,269.0 295.5,267.9 296.5,266.8 297.5,265.8 298.5,264.7 299.5,263.6 300.5,262.6 301.5,261.6 301.8,261.3 302.5,260.6 303.5,259.7 304.5,258.8 305.5,257.8 306.5,256.9 307.5,256.1 308.5,255.2 309.5,254.4 310.5,253.5 311.5,252.7 312.2,252.2 312.5,252.0 313.5,251.2 314.5,250.5 315.5,249.8 316.5,249.0 317.5,248.4 318.5,247.7 319.5,247.0 320.5,246.4 321.5,245.8 322.5,245.2 323.5,244.6 324.5,244.1 325.5,243.6 326.5,243.1 327.5,242.6 328.5,242.1 329.5,241.6 330.0,241.4 330.5,241.2 331.5,240.7 332.5,240.3 333.5,239.8 334.5,239.4 335.5,239.0 336.0,238.8 336.5,238.6 337.5,238.2 338.5,237.7 339.5,237.3 340.5,236.9 341.5,236.7 342.5,236.5 342.6,236.5 343.5,236.4 344.5,236.4 345.5,236.3 346.5,236.3 347.5,236.2 348.5,236.2 349.5,236.1 350.5,236.1 351.5,236.1 352.5,236.0 353.5,236.0 354.5,236.0 355.5,236.0 356.5,236.0 356.6,236.0 357.5,236.0 358.5,236.0 359.5,236.1 360.5,236.2 361.5,236.3 362.5,236.4 363.5,236.5 364.5,236.6 365.5,236.7 366.5,236.8 367.5,236.9 368.5,237.0 369.5,237.1 370.5,237.1 371.5,237.2 372.5,237.2 372.9,237.2 373.5,237.2 374.5,237.0 375.5,236.7 376.5,236.4 377.5,236.0 378.5,235.5 379.5,235.0 380.5,234.5 381.5,234.0 382.2,233.7 382.5,233.6 383.5,233.1 384.5,232.5 385.5,232.0 386.5,231.3 387.5,230.7 388.5,230.1 389.5,229.6 390.5,229.1 391.5,228.7 392.5,228.5 393.5,228.3 393.9,228.3 394.5,228.3 395.5,228.4 396.5,228.5 397.5,228.7 398.5,229.0 399.5,229.2 400.5,229.5 401.5,229.8 402.5,230.0 403.2,230.2 403.5,230.3 404.5,230.5 405.5,230.8 406.5,231.2 407.5,231.5 408.5,231.8 409.5,232.1 410.5,232.3 411.5,232.4 412.5,232.5 413.5,232.4 414.5,232.1 415.5,231.7 416.5,231.2 417.5,230.8 418.5,230.4 419.3,230.2 419.5,230.2 420.5,230.0 421.5,229.8 422.5,229.7 423.5,229.5 424.5,229.4 425.5,229.3 426.5,229.2 427.5,229.1 428.5,229.0 429.5,229.0 429.8,229.0 430.5,229.0 431.5,229.1 432.5,229.3 433.5,229.5 434.5,229.7 435.5,230.0 436.5,230.3 437.5,230.6 438.5,230.9 439.5,231.1 440.3,231.3 440.5,231.3 441.5,231.6 442.5,231.8 443.5,232.0 444.5,232.2 445.5,232.4 446.5,232.7 447.5,232.9 448.5,233.1 449.5,233.3 450.5,233.5 451.5,233.7 452.5,234.0 453.5,234.2 454.5,234.4 455.5,234.6 456.5,234.8 456.6,234.8 457.5,235.0 458.5,235.2 459.5,235.3 460.5,235.5 461.5,235.7 462.5,235.8 463.5,236.0 464.5,236.1 465.5,236.3 466.5,236.5 467.5,236.7 468.5,236.8 469.5,237.0 470.5,237.3 471.5,237.5 472.5,237.8 473.0,237.9 473.5,238.1 474.5,238.5 475.5,239.0 476.5,239.6 477.5,240.3 478.5,241.0 479.5,241.7 480.5,242.3 481.5,242.8 482.5,243.3 483.5,243.6 484.5,243.7 484.6,243.7 485.5,243.7 486.5,243.6 487.5,243.5 488.5,243.4 489.5,243.3 490.5,243.1 491.5,242.9 492.5,242.7 493.5,242.4 494.5,242.2 495.5,242.0 496.3,241.8 496.5,241.8 497.5,241.4 498.5,241.0 499.5,240.6 500.5,240.1 501.5,239.6 502.5,239.1 503.5,238.7 504.5,238.3 505.5,238.0 506.5,237.9 506.8,237.9 507.5,237.9 508.5,238.2 509.5,238.5 510.5,239.0 511.5,239.6 512.5,240.2 513.5,240.9 514.5,241.5 514.9,241.8 515.5,242.2 516.5,243.0 517.5,243.8 518.5,244.7 519.5,245.7 520.5,246.8 521.5,247.9 522.5,249.0 523.5,250.1 524.5,251.2 525.5,252.3 526.5,253.4 526.6,253.5 527.5,254.4 528.5,255.5 529.5,256.6 530.5,257.7 531.5,258.9 532.5,260.0 533.5,261.1 534.5,262.3 535.5,263.4 536.5,264.5 537.5,265.5 538.5,266.6 539.5,267.6 540.5,268.5 540.6,268.6 541.5,269.4 542.5,270.4 543.5,271.3 544.5,272.2 545.5,273.1 546.5,273.9 547.5,274.8 548.5,275.6 549.5,276.3 550.5,277.0 551.5,277.6 552.2,278.0 552.5,278.2 553.5,278.7 554.5,279.3 555.5,279.9 556.5,280.4 557.5,280.9 558.5,281.3 559.5,281.6 560.5,281.8 561.5,281.9 561.6,281.9 562.5,281.9 563.5,281.8 564.5,281.6 565.5,281.4 566.5,281.2 567.5,280.9 568.5,280.6 569.5,280.2 570.5,279.9 571.5,279.5 572.5,279.2 573.5,278.8 574.5,278.4 575.5,278.0 576.5,277.5 577.5,277.0 578.5,276.5 579.5,275.9 580.5,275.4 581.5,274.8 582.5,274.2 583.5,273.6 584.5,273.1 585.5,272.5 586.5,272.0 587.5,271.5 588.5,271.0 589.5,270.4 590.5,269.8 591.5,269.3 592.5,268.8 593.5,268.3 594.5,268.0 595.5,267.9 595.7,267.9 596.5,268.0 597.5,268.2 598.5,268.7 599.5,269.2 600.5,269.7 601.2,270.1 601.5,270.3 602.5,270.9 603.5,271.6 604.5,272.4 605.5,273.2 606.5,274.1 607.5,275.1 608.5,276.1 609.5,277.1 610.5,278.1 611.5,279.2 612.5,280.2 613.5,281.2 614.5,282.1 614.9,282.5 615.5,283.0 616.5,284.0 617.5,284.9 618.5,285.8 619.5,286.7 620.5,287.6 621.5,288.5 622.5,289.4 623.5,290.3 624.5,291.2 625.5,292.1 626.5,293.0 627.5,293.9 628.5,294.9 629.5,295.8 630.5,296.7 631.4,297.6 631.5,297.7 632.5,298.7 633.5,299.6 634.5,300.6 635.5,301.6 636.5,302.6 637.5,303.6 638.5,304.6 639.5,305.6 640.5,306.6 641.5,307.6 642.5,308.6 643.5,309.6 644.5,310.6 645.5,311.6 646.5,312.6 647.5,313.6 647.9,314.0 648.5,314.6 649.5,315.6 650.5,316.7 651.5,317.8 652.5,318.9 653.5,320.0 654.5,321.1 655.5,322.1 656.5,323.1 657.5,324.1 658.5,325.0 659.5,325.7 660.5,326.4 661.5,327.0 661.6,327.0 662.5,327.4 663.5,327.8 664.5,328.2 665.5,328.5 666.5,328.8 667.5,329.1 668.5,329.4 669.5,329.6 669.8,329.7 670.5,329.9 671.5,330.1 672.5,330.3 673.5,330.4 674.5,330.6 675.5,330.7 676.5,330.9 677.5,331.0 678.5,331.2 679.5,331.4 680.5,331.6 681.5,331.8 682.5,332.1 683.5,332.4 683.6,332.4 684.5,332.8 685.5,333.3 686.5,334.0 687.5,334.8 688.5,335.5 689.1,336.0 689.5,336.3 690.5,337.2 691.5,338.1 692.5,339.1 693.5,340.1 694.5,341.2 695.5,342.3 696.5,343.4 697.5,344.6 698.5,345.7 699.5,346.8 700.5,347.9 701.5,349.0 702.5,350.0 703.5,350.9 704.5,351.7 705.5,352.5 706.5,353.2 707.5,353.8 708.5,354.4 709.5,354.9 710.5,355.5 711.5,356.0 712.5,356.5 713.5,357.0 714.5,357.6 715.5,358.2 716.5,358.8 717.5,359.5 718.5,360.2 719.5,360.9 720.5,361.7 721.5,362.4 722.5,363.2 723.5,364.0 724.5,364.9 725.5,365.7 726.5,366.6 727.5,367.5 728.5,368.4 729.5,369.3 730.5,370.3" fill="none" stroke="#7f7f7f" stroke-width="1.62" stroke-linejoin="round" stroke-dasharray="6.0 2.6"/>
<polyline points="99.3,297.7 100.3,297.6 101.3,297.4 102.3,297.3 103.3,297.2 104.3,297.1 105.3,297.0 106.3,297.0 107.3,296.9 108.3,296.9 109.3,296.8 110.3,296.8 111.0,296.8 111.3,296.8 112.3,296.8 113.3,296.9 114.3,296.9 115.3,297.0 116.3,297.0 117.3,297.1 118.3,297.2 119.3,297.3 120.3,297.4 121.3,297.5 122.3,297.6 123.3,297.7 124.3,297.8 125.3,297.8 126.3,297.9 127.3,297.9 128.3,298.0 129.3,298.0 129.6,298.0 130.3,298.0 131.3,298.0 132.3,298.0 133.3,297.9 134.3,297.9 135.3,297.8 136.3,297.8 137.3,297.7 138.3,297.7 139.3,297.6 140.3,297.5 141.3,297.4 142.3,297.3 143.3,297.2 144.3,297.2 145.3,297.1 146.3,297.0 147.3,296.9 148.3,296.8 149.3,296.7 150.3,296.6 151.3,296.5 152.3,296.4 153.3,296.3 154.3,296.1 155.3,296.0 156.3,295.9 157.3,295.7 158.3,295.6 159.3,295.4 160.3,295.3 161.3,295.1 162.3,294.9 163.3,294.8 164.3,294.6 165.3,294.5 166.3,294.3 167.3,294.1 168.3,294.0 169.3,293.8 170.3,293.6 171.3,293.4 172.3,293.2 173.3,293.0 174.3,292.8 175.3,292.6 176.3,292.4 177.3,292.1 178.3,291.9 179.3,291.7 180.3,291.5 181.3,291.3 182.3,291.1 183.3,290.9 184.3,290.7 185.3,290.6 186.3,290.5 187.3,290.4 187.9,290.3 188.3,290.3 189.3,290.2 190.3,290.1 191.3,290.0 192.3,290.0 193.3,289.9 194.3,289.8 195.3,289.8 196.3,289.7 197.3,289.7 198.3,289.7 199.3,289.6 200.3,289.6 201.3,289.6 201.9,289.6 202.3,289.6 203.3,289.6 204.3,289.7 205.3,289.7 206.3,289.8 207.3,289.9 208.3,290.0 209.3,290.1 210.3,290.2 211.3,290.3 212.3,290.4 213.3,290.5 214.3,290.6 215.3,290.7 216.3,290.7 217.1,290.7 217.3,290.7 218.3,290.7 219.3,290.6 220.3,290.5 221.3,290.4 222.3,290.2 223.3,290.1 224.3,289.9 225.2,289.8 225.3,289.8 226.3,289.6 227.3,289.5 228.3,289.3 229.3,289.1 230.3,288.9 231.3,288.7 232.3,288.5 233.3,288.3 234.3,288.0 235.3,287.8 236.3,287.6 237.3,287.3 238.3,287.1 239.3,286.8 240.3,286.5 241.3,286.3 242.3,286.0 243.3,285.8 244.3,285.5 245.3,285.3 246.3,285.0 247.3,284.8 248.3,284.5 248.5,284.5 249.3,284.3 250.3,284.1 251.3,283.9 252.3,283.6 253.3,283.4 254.3,283.2 255.3,283.0 256.3,282.7 257.3,282.5 258.3,282.3 259.3,282.0 260.3,281.8 261.3,281.5 262.3,281.3 263.3,281.0 264.3,280.7 265.3,280.4 266.3,280.2 267.3,279.9 268.3,279.6 269.3,279.2 270.3,278.9 271.3,278.6 272.3,278.3 273.3,278.0 274.3,277.6 275.3,277.3 276.3,277.0 277.3,276.6 278.3,276.3 279.3,275.9 280.3,275.6 281.3,275.2 282.3,274.8 283.3,274.5 284.3,274.1 285.3,273.8 286.3,273.4 286.6,273.3 287.3,273.0 288.3,272.7 289.3,272.3 290.3,271.9 291.3,271.5 292.3,271.1 293.3,270.7 294.3,270.3 295.3,269.9 296.3,269.4 297.3,269.0 298.3,268.6 299.3,268.2 300.3,267.8 301.3,267.3 302.3,266.9 303.3,266.5 304.3,266.1 305.3,265.7 306.3,265.3 307.3,264.9 308.3,264.6 309.3,264.2 309.9,264.0 310.3,263.9 311.3,263.5 312.3,263.2 313.3,262.8 314.3,262.5 315.3,262.1 316.3,261.8 317.3,261.5 318.3,261.1 319.3,260.8 320.3,260.5 321.3,260.2 322.3,259.9 323.3,259.6 324.3,259.3 325.3,259.1 326.3,258.8 327.3,258.5 328.3,258.3 329.3,258.0 330.3,257.7 331.3,257.4 332.3,257.1 333.3,256.8 334.3,256.6 335.3,256.3 336.3,256.1 337.3,255.9 338.3,255.7 339.3,255.5 340.3,255.4 341.3,255.3 342.3,255.3 342.6,255.3 343.3,255.3 344.3,255.3 345.3,255.3 346.3,255.4 347.3,255.4 348.3,255.4 349.3,255.5 350.3,255.5 351.3,255.6 352.3,255.6 353.3,255.7 354.3,255.7 355.3,255.7 356.3,255.8 356.6,255.8 357.3,255.8 358.3,255.9 359.3,255.9 360.3,256.0 361.3,256.0 362.3,256.1 363.3,256.1 364.3,256.2 365.3,256.2 366.3,256.3 367.3,256.3 368.3,256.3 369.3,256.4 370.3,256.4 371.3,256.4 372.3,256.5 373.3,256.5 374.3,256.5 375.2,256.5 375.3,256.5 376.3,256.5 377.3,256.4 378.3,256.3 379.3,256.1 380.3,255.9 381.3,255.7 382.3,255.4 383.3,255.2 384.3,254.9 385.3,254.6 386.3,254.4 386.9,254.2 387.3,254.1 388.3,253.7 389.3,253.2 390.3,252.7 391.3,252.2 392.3,251.7 393.3,251.4 394.3,251.2 395.0,251.1 395.3,251.1 396.3,251.2 397.3,251.4 398.3,251.6 399.3,251.9 400.3,252.2 401.3,252.5 402.3,252.8 403.2,253.0 403.3,253.0 404.3,253.3 405.3,253.6 406.3,253.9 407.3,254.3 408.3,254.6 409.3,254.8 410.3,255.1 411.3,255.2 412.3,255.3 412.5,255.3 413.3,255.3 414.3,255.1 415.3,254.9 416.3,254.6 417.3,254.4 418.3,254.1 419.3,253.9 420.3,253.7 421.3,253.5 422.3,253.3 423.3,253.1 424.3,252.9 425.3,252.7 426.3,252.6 427.3,252.4 428.3,252.4 429.3,252.3 429.8,252.3 430.3,252.3 431.3,252.4 432.3,252.5 433.3,252.7 434.3,253.0 435.3,253.3 436.3,253.5 437.3,253.8 438.3,254.1 439.3,254.4 440.3,254.6 441.3,254.8 442.3,255.0 443.3,255.2 444.3,255.4 445.3,255.6 446.3,255.8 447.3,256.0 448.3,256.2 449.3,256.4 450.3,256.5 451.3,256.7 452.3,256.9 453.3,257.1 454.3,257.3 455.3,257.5 456.3,257.6 456.6,257.7 457.3,257.8 458.3,258.0 459.3,258.1 460.3,258.3 461.3,258.4 462.3,258.6 463.3,258.7 464.3,258.9 465.3,259.0 466.3,259.1 467.3,259.3 468.3,259.5 469.3,259.7 470.3,259.9 471.3,260.1 472.3,260.3 473.0,260.5 473.3,260.6 474.3,261.0 475.3,261.5 476.3,262.2 477.3,262.9 478.3,263.6 479.3,264.2 480.3,264.8 481.3,265.3 482.3,265.7 483.3,265.8 483.4,265.8 484.3,265.8 485.3,265.7 486.3,265.7 487.3,265.5 488.3,265.4 489.3,265.3 490.3,265.1 491.3,264.9 492.3,264.7 493.3,264.5 493.9,264.4 494.3,264.3 495.3,264.0 496.3,263.6 497.3,263.1 498.3,262.6 499.3,262.1 500.3,261.5 501.3,261.0 502.3,260.6 503.3,260.2 504.3,259.9 505.3,259.8 505.6,259.8 506.3,259.8 507.3,260.0 508.3,260.3 509.3,260.6 510.3,261.1 511.3,261.5 512.3,262.0 512.6,262.1 513.3,262.4 514.3,263.0 515.3,263.5 516.3,264.2 517.3,264.9 518.3,265.6 519.3,266.4 520.3,267.3 521.3,268.1 522.3,269.0 523.3,269.9 524.3,270.8 525.3,271.6 526.3,272.5 526.6,272.8 527.3,273.4 528.3,274.4 529.3,275.4 530.3,276.4 531.3,277.4 532.3,278.5 533.3,279.6 534.3,280.7 535.3,281.8 536.3,282.9 537.3,283.9 538.3,285.0 539.3,286.0 540.3,287.0 540.6,287.3 541.3,288.0 542.3,289.0 543.3,290.0 544.3,291.0 545.3,292.0 546.3,293.0 547.3,294.0 548.3,294.9 549.3,295.8 550.3,296.5 551.3,297.2 552.2,297.8 552.3,297.9 553.3,298.4 554.3,299.0 555.3,299.6 556.3,300.1 557.3,300.6 558.3,301.0 559.3,301.2 560.3,301.3 560.4,301.3 561.3,301.3 562.3,301.2 563.3,301.1 564.3,300.9 565.3,300.7 566.3,300.5 567.3,300.3 568.3,300.0 569.3,299.7 570.3,299.4 571.3,299.1 572.3,298.8 573.3,298.5 573.5,298.4 574.3,298.1 575.3,297.7 576.3,297.3 577.3,296.8 578.3,296.2 579.3,295.7 580.3,295.1 581.3,294.5 582.3,293.8 583.3,293.2 584.3,292.6 585.3,292.0 586.3,291.4 587.3,290.8 587.5,290.7 588.3,290.2 589.3,289.6 590.3,288.9 591.3,288.2 592.3,287.5 593.3,287.0 594.3,286.7 595.2,286.6 595.3,286.6 596.3,286.7 597.3,287.1 598.3,287.6 599.3,288.1 600.3,288.8 601.2,289.3 601.3,289.4 602.3,290.0 603.3,290.7 604.3,291.6 605.3,292.5 606.3,293.4 607.3,294.4 608.3,295.4 609.3,296.5 610.3,297.6 611.3,298.6 612.3,299.7 613.3,300.7 614.3,301.6 614.9,302.2 615.3,302.6 616.3,303.5 617.3,304.4 618.3,305.3 619.3,306.1 620.3,307.0 621.3,307.9 622.3,308.8 623.3,309.6 624.3,310.5 625.3,311.4 626.3,312.2 627.3,313.1 628.3,314.0 629.3,314.9 630.3,315.8 631.3,316.7 631.4,316.8 632.3,317.6 633.3,318.6 634.3,319.5 635.3,320.4 636.3,321.4 637.3,322.4 638.3,323.3 639.3,324.3 640.3,325.2 641.3,326.2 642.3,327.2 643.3,328.1 644.3,329.1 645.3,330.0 646.3,330.9 647.3,331.9 647.9,332.4 648.3,332.8 649.3,333.7 650.3,334.7 651.3,335.7 652.3,336.8 653.3,337.8 654.3,338.9 655.3,339.9 656.3,340.9 657.3,341.8 658.3,342.7 659.3,343.5 660.3,344.2 661.3,344.8 662.3,345.3 663.0,345.6 663.3,345.7 664.3,346.0 665.3,346.3 666.3,346.6 667.3,346.9 668.3,347.1 669.3,347.3 670.3,347.5 671.3,347.7 672.3,347.9 673.3,348.1 674.3,348.2 675.3,348.4 676.3,348.6 677.3,348.7 678.3,348.8 679.3,348.9 680.3,349.0 681.3,349.1 682.3,349.2 683.3,349.4 684.3,349.6 684.9,349.7 685.3,349.8 686.3,350.3 687.3,351.0 688.3,351.9 689.3,352.8 690.3,353.8 691.3,354.7 691.8,355.2 692.3,355.7 693.3,356.6 694.3,357.6 695.3,358.7 696.3,359.8 697.3,360.9 698.3,362.1 699.3,363.2 700.3,364.3 701.3,365.4 702.3,366.4 703.3,367.3 704.3,368.1 705.3,368.9 705.5,369.0 706.3,369.5 707.3,370.1 708.3,370.6 709.3,371.1 710.3,371.5 711.3,372.0 712.3,372.4 713.3,372.8 714.3,373.3 715.3,373.8 716.3,374.4 716.5,374.5 717.3,375.0 718.3,375.6 719.3,376.3 720.3,377.0 721.3,377.7 722.3,378.5 723.3,379.3 724.3,380.1 725.3,380.9 726.3,381.8 727.3,382.6 727.5,382.8" fill="none" stroke="#779ade" stroke-width="1.62" stroke-linejoin="round"/>
<polyline points="99.3,283.8 100.3,283.1 101.3,282.3 102.3,281.8 102.8,281.7 103.3,281.6 104.3,281.5 105.3,281.4 106.3,281.2 107.3,281.1 108.3,281.0 109.3,280.9 110.3,280.9 111.3,280.8 112.3,280.7 113.3,280.7 114.3,280.6 115.3,280.6 116.3,280.6 117.3,280.5 118.3,280.5 119.3,280.5 120.3,280.5 121.3,280.5 122.3,280.5 123.3,280.5 124.3,280.5 125.3,280.6 126.3,280.6 127.3,280.6 128.3,280.7 129.3,280.7 130.3,280.7 131.3,280.8 132.3,280.8 133.3,280.9 134.3,280.9 135.3,281.0 136.3,281.0 136.6,281.0 137.3,281.0 138.3,281.1 139.3,281.1 140.3,281.2 141.3,281.2 142.3,281.3 143.3,281.3 144.3,281.4 145.3,281.5 146.3,281.5 147.3,281.6 148.3,281.6 149.3,281.6 150.3,281.7 151.3,281.7 152.3,281.7 153.0,281.7 153.3,281.7 154.3,281.7 155.3,281.7 156.3,281.7 157.3,281.6 158.3,281.6 159.3,281.6 160.3,281.5 161.3,281.5 162.3,281.4 163.3,281.4 164.3,281.3 165.3,281.3 166.3,281.2 167.3,281.1 168.3,281.1 169.3,281.0 170.3,280.9 171.3,280.8 172.3,280.7 173.3,280.5 174.3,280.3 175.3,280.1 176.3,279.9 177.3,279.7 178.3,279.5 179.3,279.3 180.3,279.1 181.3,278.9 182.3,278.7 183.3,278.6 184.3,278.4 185.3,278.3 186.3,278.3 187.3,278.2 187.9,278.2 188.3,278.2 189.3,278.4 190.3,278.8 191.3,279.1 192.3,279.3 192.6,279.3 193.3,279.2 194.3,278.9 195.3,278.5 196.3,278.2 197.3,277.9 198.3,277.8 199.3,277.7 200.3,277.6 201.3,277.5 202.3,277.4 203.3,277.4 204.3,277.3 205.3,277.3 206.3,277.2 207.3,277.1 208.3,277.0 209.3,276.9 210.1,276.8 210.3,276.8 211.3,276.4 212.3,275.9 213.3,275.2 214.3,274.6 215.3,274.0 216.3,273.6 217.1,273.5 217.3,273.5 218.3,274.6 219.3,276.4 220.3,277.6 220.6,277.7 221.3,277.7 222.3,277.8 223.3,277.8 224.3,277.9 225.3,277.9 226.3,278.0 227.3,278.0 228.3,278.0 229.3,278.0 230.3,278.1 231.3,278.1 232.3,278.1 233.3,278.1 234.3,278.1 235.3,278.2 236.3,278.2 237.3,278.2 238.3,278.2 239.3,278.2 240.3,278.2 241.3,278.2 242.3,278.2 243.3,278.2 243.9,278.2 244.3,278.2 245.3,278.2 246.3,278.1 247.3,278.1 248.3,278.0 249.3,277.9 250.3,277.8 251.3,277.7 252.3,277.6 253.3,277.5 254.3,277.3 255.3,277.2 256.3,277.0 257.3,276.9 258.3,276.8 259.3,276.6 260.3,276.5 261.3,276.3 262.3,276.2 263.3,276.1 264.3,276.0 265.3,275.9 266.3,275.8 267.3,275.6 268.3,275.5 269.3,275.4 270.3,275.3 271.3,275.2 272.3,275.1 273.3,274.9 274.3,274.8 275.3,274.7 276.3,274.6 277.3,274.5 278.3,274.3 279.3,274.2 280.3,274.1 281.3,274.0 282.3,273.8 283.3,273.7 284.3,273.6 285.3,273.5 286.3,273.3 286.6,273.3 287.3,273.2 288.3,273.1 289.3,272.9 290.3,272.8 291.3,272.6 292.3,272.5 293.3,272.4 294.3,272.2 295.3,272.1 296.3,271.9 297.3,271.7 298.3,271.6 299.3,271.4 300.3,271.3 301.3,271.1 302.3,271.0 303.3,270.9 304.3,270.7 305.3,270.6 306.3,270.4 307.3,270.3 308.3,270.2 309.3,270.1 309.9,270.0 310.3,270.0 311.3,269.8 312.3,269.7 313.3,269.7 314.3,269.6 315.3,269.5 316.3,269.4 317.3,269.3 318.3,269.2 319.3,269.2 320.3,269.1 321.3,269.0 322.3,268.9 323.3,268.8 324.3,268.7 325.3,268.6 326.3,268.5 327.3,268.4 328.3,268.2 328.6,268.2 329.3,268.1 330.3,267.9 331.3,267.6 332.3,267.3 333.3,267.0 334.3,266.6 335.3,266.3 336.3,266.0 337.3,265.6 338.3,265.4 339.3,265.1 340.3,264.9 341.3,264.8 342.3,264.7 342.6,264.7 343.3,264.7 344.3,264.7 345.3,264.7 346.3,264.7 347.3,264.7 348.3,264.7 349.3,264.7 350.3,264.7 351.3,264.7 352.3,264.7 353.3,264.7 354.3,264.7 355.3,264.7 356.3,264.7 356.6,264.7 357.3,264.7 358.3,264.7 359.3,264.8 360.3,264.8 361.3,264.8 362.3,264.9 363.3,265.0 364.3,265.1 365.3,265.1 366.3,265.2 367.3,265.3 368.3,265.4 369.3,265.5 370.3,265.5 371.3,265.6 372.3,265.7 373.3,265.7 374.3,265.8 375.2,265.8 375.3,265.8 376.3,265.8 377.3,265.9 378.3,265.9 379.3,265.9 380.3,265.9 381.3,265.9 382.3,265.9 383.3,265.9 384.3,265.9 385.3,266.0 386.3,266.0 387.3,266.0 388.3,266.1 389.2,266.1 389.3,266.1 390.3,266.8 391.3,268.2 392.3,269.7 393.3,270.8 393.9,271.0 394.3,270.9 395.3,269.9 396.3,268.5 397.3,267.2 398.1,266.8 398.3,266.8 399.3,266.9 400.3,267.2 401.3,267.6 402.3,268.0 403.3,268.6 404.3,269.2 405.3,269.8 406.3,270.5 407.3,271.1 408.3,271.7 409.3,272.3 410.3,272.7 411.3,273.1 412.3,273.3 412.5,273.3 413.3,273.4 414.3,273.5 415.3,273.6 416.3,273.7 417.3,273.7 418.3,273.8 419.3,273.8 420.3,273.8 421.3,273.8 422.3,273.7 423.3,273.7 424.3,273.7 425.3,273.6 426.3,273.6 427.3,273.5 428.3,273.4 429.3,273.4 430.3,273.4 431.3,273.3 432.3,273.3 433.3,273.3 434.3,273.3 435.3,273.3 436.3,273.4 437.3,273.5 438.3,273.5 439.3,273.6 440.3,273.7 441.3,273.8 442.3,274.0 443.3,274.1 444.3,274.2 445.3,274.3 446.3,274.5 447.3,274.6 448.3,274.8 449.3,274.9 450.3,275.0 451.3,275.1 452.0,275.2 452.3,275.2 453.3,275.3 454.3,275.4 455.3,275.5 456.3,275.6 457.3,275.8 458.3,275.9 459.3,276.0 460.3,276.1 461.3,276.2 462.3,276.3 463.3,276.4 464.3,276.5 465.3,276.6 466.3,276.7 467.3,276.9 468.3,277.0 469.3,277.1 470.3,277.3 470.6,277.3 471.3,277.4 472.3,277.6 473.3,277.8 474.3,278.0 475.3,278.3 476.3,278.5 477.3,278.7 478.3,279.0 479.3,279.2 480.3,279.3 481.3,279.5 482.3,279.6 483.3,279.6 483.4,279.6 484.3,279.6 485.3,279.6 486.3,279.5 487.3,279.4 488.3,279.3 489.3,279.2 490.3,279.1 491.3,279.0 492.3,278.9 493.3,278.8 494.3,278.6 495.3,278.5 496.3,278.4 497.3,278.3 498.3,278.1 499.3,278.0 500.3,277.8 501.3,277.6 502.3,277.4 503.3,277.2 504.3,277.1 505.3,277.0 506.3,276.9 507.3,276.8 507.9,276.8 508.3,276.8 509.3,276.9 510.3,277.0 511.3,277.2 512.3,277.5 513.3,277.8 514.3,278.1 515.3,278.5 516.3,278.8 517.2,279.1 517.3,279.1 518.3,279.5 519.3,279.8 520.3,280.3 521.3,280.7 522.3,281.2 523.3,281.6 524.3,282.1 525.3,282.6 526.3,283.2 527.3,283.7 528.3,284.2 529.3,284.7 530.3,285.2 531.2,285.7 531.3,285.7 532.3,286.3 533.3,286.8 534.3,287.3 535.3,287.8 536.3,288.4 537.3,288.9 538.3,289.4 539.3,290.0 540.3,290.5 541.3,291.0 542.3,291.6 543.3,292.1 544.3,292.6 545.2,293.1 545.3,293.2 546.3,293.7 547.3,294.3 548.3,294.9 549.3,295.4 550.3,296.0 551.3,296.5 552.3,297.0 553.3,297.4 554.3,297.7 554.6,297.8 555.3,298.0 556.3,298.2 557.3,298.4 558.3,298.6 559.3,298.7 560.3,298.8 561.3,298.9 561.6,298.9 562.3,298.9 563.3,298.8 564.3,298.7 565.3,298.6 566.3,298.4 567.3,298.2 568.3,297.9 569.3,297.6 570.3,297.4 571.3,297.1 572.3,296.8 573.3,296.5 573.7,296.4 574.3,296.2 575.3,295.9 576.3,295.5 577.3,295.1 578.3,294.6 579.3,294.2 580.3,293.7 581.3,293.2 582.3,292.7 583.3,292.2 584.3,291.7 585.3,291.3 586.3,290.9 587.3,290.6 587.5,290.5 588.3,290.2 589.3,289.9 590.3,289.5 591.3,289.2 592.3,288.9 593.3,288.6 594.3,288.3 595.3,288.1 596.3,288.0 597.1,288.0 597.3,288.0 598.3,288.1 599.3,288.4 600.3,288.9 601.3,289.3 602.3,289.9 603.3,290.4 603.9,290.7 604.3,290.9 605.3,291.4 606.3,292.0 607.3,292.6 608.3,293.2 609.3,293.8 610.3,294.5 611.3,295.2 612.3,295.8 613.3,296.5 614.3,297.2 614.9,297.6 615.3,297.9 616.3,298.5 617.3,299.2 618.3,299.9 619.3,300.6 620.3,301.3 621.3,302.0 622.3,302.7 623.3,303.4 624.3,304.1 625.3,304.8 626.3,305.6 627.3,306.3 628.3,307.1 629.3,307.8 630.3,308.6 631.3,309.3 631.4,309.4 632.3,310.1 633.3,310.9 634.3,311.7 635.3,312.5 636.3,313.4 637.3,314.2 638.3,315.0 639.3,315.9 640.3,316.8 641.3,317.6 642.3,318.5 643.3,319.3 644.3,320.2 645.3,321.0 646.3,321.8 647.3,322.6 647.9,323.1 648.3,323.4 649.3,324.3 650.3,325.1 651.3,326.0 652.3,326.9 653.3,327.8 654.3,328.7 655.3,329.6 656.3,330.4 657.3,331.2 658.3,332.0 659.3,332.7 660.3,333.3 661.3,333.9 662.3,334.3 663.0,334.6 663.3,334.7 664.3,335.0 665.3,335.3 666.3,335.6 667.3,335.9 668.3,336.1 669.3,336.4 670.3,336.6 671.3,336.8 672.3,337.0 673.3,337.1 674.3,337.3 675.3,337.4 676.3,337.5 677.3,337.6 678.3,337.7 679.3,337.7 680.3,337.8 681.3,337.8 682.3,337.9 683.3,338.0 684.3,338.1 684.9,338.2 685.3,338.3 686.3,338.7 687.3,339.3 688.3,340.0 689.3,340.8 690.3,341.7 691.3,342.5 691.8,342.9 692.3,343.3 693.3,344.1 694.3,345.0 695.3,345.9 696.3,346.8 697.3,347.8 698.3,348.8 699.3,349.7 700.3,350.7 701.3,351.6 702.3,352.6 703.3,353.4 704.3,354.3 705.3,355.1 705.5,355.2 706.3,355.8 707.3,356.4 708.3,357.0 709.3,357.6 710.3,358.2 711.3,358.8 712.3,359.3 713.3,359.9 714.3,360.6 715.3,361.2 716.3,361.9 716.5,362.1 717.3,362.7 718.3,363.6 719.3,364.4 720.3,365.4 721.3,366.3 722.3,367.3 723.3,368.4 724.3,369.4 725.3,370.6 726.3,371.7 727.3,372.9 727.5,373.1" fill="none" stroke="#f3a479" stroke-width="1.62" stroke-linejoin="round"/>
<polyline points="99.5,581.0 100.5,580.4 101.5,579.7 102.5,579.2 103.5,578.7 104.5,578.3 105.5,578.0 106.3,577.9 106.5,577.9 107.5,577.8 108.5,577.7 109.5,577.7 110.5,577.6 111.5,577.6 112.2,577.5 112.5,577.4 113.5,577.0 114.5,576.2 115.5,575.5 116.5,575.1 116.8,575.1 117.5,575.1 118.5,575.2 119.5,575.3 120.5,575.4 121.5,575.5 122.5,575.7 123.5,575.9 124.5,576.0 125.0,576.1 125.5,576.2 126.5,576.4 127.5,576.7 128.5,577.0 129.5,577.3 130.5,577.6 131.5,577.8 132.5,577.9 133.1,577.9 133.5,577.9 134.5,577.8 135.5,577.7 136.5,577.5 137.5,577.3 138.5,577.1 139.5,576.8 140.5,576.6 141.5,576.4 142.5,576.2 143.5,576.1 143.6,576.1 144.5,576.0 145.5,576.0 146.5,576.0 147.5,575.9 148.5,575.9 149.5,575.9 150.5,575.8 151.5,575.8 152.5,575.8 153.5,575.7 154.5,575.7 155.3,575.6 155.5,575.6 156.5,575.4 157.5,575.1 158.5,574.8 159.5,574.4 160.5,573.9 161.5,573.4 162.5,572.8 163.5,572.3 164.5,571.8 165.5,571.4 166.5,571.0 166.9,570.9 167.5,570.7 168.5,570.4 169.5,570.1 170.5,569.7 171.5,569.4 172.5,569.1 173.5,568.9 174.5,568.7 175.5,568.6 176.3,568.6 176.5,568.6 177.5,568.7 178.5,568.8 179.5,569.0 180.5,569.3 181.5,569.6 182.5,569.8 183.5,570.1 184.5,570.3 185.5,570.5 185.6,570.5 186.5,570.6 187.5,570.7 188.5,570.8 189.5,571.0 190.5,571.0 191.5,571.1 192.5,571.2 193.5,571.2 193.8,571.2 194.5,571.2 195.5,571.0 196.5,570.7 197.5,570.3 198.5,569.8 199.5,569.3 200.5,568.8 201.5,568.3 202.5,567.8 203.5,567.4 204.5,567.0 205.5,566.8 206.5,566.7 206.6,566.7 207.5,566.7 208.5,566.7 209.5,566.8 210.5,566.9 211.5,566.9 212.5,567.0 213.5,567.1 214.5,567.1 215.5,567.2 216.5,567.2 217.1,567.2 217.5,567.2 218.5,567.1 219.5,567.0 220.5,566.9 221.5,566.7 222.5,566.4 223.5,566.1 224.5,565.8 225.5,565.5 226.5,565.1 227.5,564.8 228.5,564.4 229.5,564.0 229.9,563.9 230.5,563.7 231.5,563.2 232.5,562.8 233.5,562.2 234.5,561.6 235.5,561.0 236.5,560.4 237.5,559.7 238.5,559.0 239.5,558.3 240.5,557.5 241.5,556.8 242.5,556.1 243.5,555.4 243.9,555.1 244.5,554.7 245.5,554.0 246.5,553.2 247.5,552.5 248.5,551.7 249.5,550.9 250.5,550.1 251.5,549.3 252.5,548.5 253.5,547.7 254.5,546.9 255.5,546.0 256.5,545.2 257.5,544.4 257.9,544.1 258.5,543.6 259.5,542.8 260.5,542.0 261.5,541.2 262.5,540.4 263.3,539.7 263.5,539.5 264.5,538.7 265.5,537.9 266.5,537.0 267.5,536.2 268.5,535.3 269.5,534.5 270.5,533.6 271.5,532.8 272.5,531.9 273.5,531.1 274.5,530.2 275.5,529.4 276.5,528.6 277.5,527.7 278.5,526.9 279.5,526.1 280.5,525.3 281.5,524.5 282.0,524.1 282.5,523.7 283.5,523.0 284.5,522.2 285.5,521.5 286.5,520.8 287.5,520.0 288.5,519.2 289.5,518.5 290.5,517.7 291.5,516.9 292.5,516.1 293.5,515.4 294.5,514.6 295.5,513.8 296.5,513.0 297.5,512.2 298.5,511.3 299.5,510.5 300.5,509.6 301.5,508.7 302.5,507.8 303.5,506.8 304.5,505.8 305.5,504.8 306.5,503.8 307.5,502.8 308.5,501.7 309.5,500.7 310.5,499.6 311.5,498.6 311.8,498.3 312.5,497.6 313.5,496.5 314.5,495.5 315.5,494.4 316.5,493.3 317.5,492.3 318.5,491.2 319.5,490.2 320.5,489.1 321.5,488.2 322.2,487.5 322.5,487.2 323.5,486.3 324.5,485.3 325.5,484.4 326.5,483.5 327.5,482.6 328.5,481.8 329.5,480.9 330.5,480.1 331.5,479.4 332.5,478.7 333.5,478.0 334.5,477.4 335.5,476.8 336.5,476.2 337.5,475.7 338.5,475.2 339.5,474.7 340.0,474.5 340.5,474.3 341.5,473.9 342.5,473.4 343.5,473.0 344.5,472.6 345.5,472.2 346.5,471.9 347.5,471.5 348.5,471.2 349.5,471.0 350.5,470.7 351.5,470.6 351.9,470.5 352.5,470.4 353.5,470.3 354.5,470.2 355.5,470.0 356.5,469.9 357.5,469.8 358.5,469.7 359.5,469.6 360.5,469.5 361.5,469.4 362.5,469.4 363.5,469.3 364.5,469.3 365.5,469.3 365.9,469.3 366.5,469.3 367.5,469.3 368.5,469.3 369.5,469.3 370.5,469.3 371.5,469.3 372.5,469.3 373.5,469.3 374.5,469.3 375.5,469.3 376.5,469.3 377.5,469.3 378.5,469.3 379.5,469.3 379.9,469.3 380.5,469.3 381.5,469.0 382.5,468.6 383.5,468.1 384.5,467.5 385.5,466.9 386.5,466.2 387.5,465.5 388.5,465.0 389.2,464.6 389.5,464.5 390.5,464.0 391.5,463.6 392.5,463.2 393.5,462.7 394.5,462.3 395.5,461.9 396.5,461.5 397.5,461.1 398.5,460.7 399.5,460.2 400.0,460.0 400.5,459.8 401.5,459.3 402.5,458.9 403.5,458.5 404.5,458.0 405.5,457.5 406.5,456.9 407.3,456.4 407.5,456.3 408.5,455.4 409.5,454.5 410.5,453.4 411.5,452.2 412.5,451.1 413.5,450.1 414.5,449.1 415.5,448.1 416.5,447.1 417.5,446.1 418.5,445.2 419.5,444.3 420.5,443.5 420.7,443.4 421.5,442.9 422.5,442.2 423.5,441.6 424.5,441.0 425.5,440.4 426.5,440.0 427.5,439.6 428.0,439.5 428.5,439.4 429.5,439.2 430.5,438.9 431.5,438.8 432.5,438.6 433.5,438.5 434.5,438.4 435.2,438.4 435.5,438.4 436.5,438.5 437.5,438.6 438.5,438.9 439.5,439.2 440.5,439.5 441.5,439.8 442.5,440.2 443.5,440.7 444.5,441.4 445.5,442.1 446.5,442.8 447.5,443.6 448.5,444.3 448.7,444.4 449.5,444.9 450.5,445.6 451.5,446.2 452.5,446.9 453.5,447.6 454.5,448.3 455.5,449.0 456.5,449.6 457.5,450.3 458.0,450.7 458.5,451.1 459.5,451.8 460.5,452.6 461.5,453.4 462.5,454.2 463.5,455.0 464.5,455.7 465.5,456.4 466.3,456.9 466.5,457.0 467.5,457.6 468.5,458.1 469.5,458.7 470.5,459.2 471.5,459.6 472.5,460.1 473.5,460.6 474.5,461.0 475.5,461.5 476.5,461.9 477.5,462.3 478.5,462.7 479.5,463.1 480.0,463.3 480.5,463.5 481.5,463.9 482.5,464.4 483.5,464.9 484.5,465.3 485.5,465.8 486.5,466.2 487.5,466.6 488.5,466.9 489.5,467.2 490.5,467.3 491.5,467.4 491.6,467.4 492.5,467.4 493.5,467.4 494.5,467.3 495.5,467.3 496.5,467.3 497.5,467.2 498.5,467.1 499.5,467.1 500.5,467.0 500.9,467.0 501.5,467.0 502.5,466.8 503.5,466.7 504.5,466.6 505.5,466.5 506.5,466.4 507.5,466.3 507.9,466.3 508.5,466.3 509.5,466.6 510.5,467.0 511.5,467.5 512.5,468.1 513.5,468.7 514.5,469.2 515.5,469.7 516.5,469.9 517.2,470.0 517.5,470.0 518.5,470.0 519.5,470.0 520.5,470.0 521.5,470.0 522.5,470.0 523.5,470.0 524.5,470.0 525.5,470.0 526.5,470.0 527.5,470.0 528.5,470.0 528.9,470.0 529.5,470.1 530.5,470.3 531.5,470.8 532.5,471.5 533.5,472.2 534.5,473.0 535.5,473.7 535.9,474.0 536.5,474.4 537.5,475.2 538.5,476.0 539.5,476.9 540.5,477.8 541.5,478.7 542.5,479.7 543.5,480.6 544.5,481.6 545.5,482.5 546.5,483.5 547.5,484.4 547.6,484.5 548.5,485.3 549.5,486.3 550.5,487.2 551.5,488.1 552.5,489.1 553.5,490.0 554.5,491.0 555.5,491.9 556.5,492.8 557.5,493.6 558.5,494.5 559.2,495.0 559.5,495.2 560.5,496.0 561.5,496.8 562.5,497.5 563.5,498.3 564.5,499.0 565.5,499.6 566.5,500.2 567.5,500.8 568.5,501.2 569.5,501.6 570.5,502.0 571.5,502.3 572.5,502.7 573.5,503.0 574.5,503.2 575.5,503.5 576.5,503.6 577.5,503.8 577.9,503.8 578.5,503.8 579.5,503.9 580.5,504.0 581.5,504.0 582.5,504.1 583.5,504.1 584.5,504.2 585.5,504.2 586.5,504.2 587.5,504.2 588.5,504.2 589.5,504.1 590.5,503.9 591.5,503.7 592.5,503.5 593.5,503.3 594.5,503.1 595.5,502.8 596.5,502.6 597.5,502.4 598.5,502.2 599.5,502.1 600.5,502.0 601.2,502.0 601.5,502.0 602.5,502.1 603.5,502.3 604.5,502.6 605.5,502.9 606.5,503.3 607.5,503.7 608.5,504.2 609.5,504.7 610.5,505.2 610.8,505.3 611.5,505.7 612.5,506.4 613.5,507.2 614.5,508.0 615.5,509.0 616.5,510.0 617.5,510.9 618.5,511.8 619.5,512.6 620.5,513.2 621.5,513.7 621.8,513.8 622.5,514.0 623.5,514.2 624.5,514.4 625.5,514.6 626.5,514.8 627.5,514.9 628.5,515.1 629.5,515.2 630.5,515.5 631.4,515.7 631.5,515.7 632.5,516.1 633.5,516.5 634.5,517.1 635.5,517.6 636.5,518.3 637.5,519.0 638.5,519.7 639.5,520.4 640.5,521.2 641.5,521.9 642.4,522.6 642.5,522.7 643.5,523.4 644.5,524.2 645.5,525.1 646.5,525.9 647.5,526.8 648.5,527.7 649.5,528.7 650.5,529.6 651.5,530.5 652.5,531.5 653.5,532.4 654.5,533.3 654.7,533.5 655.5,534.2 656.5,535.2 657.5,536.2 658.5,537.2 659.5,538.2 660.5,539.2 661.5,540.2 662.5,541.1 663.5,542.1 664.5,543.0 665.5,543.8 666.5,544.6 667.1,545.1 667.5,545.4 668.5,546.1 669.5,546.8 670.5,547.5 671.5,548.2 672.5,548.8 673.5,549.4 674.5,550.0 675.5,550.6 676.5,551.1 677.5,551.6 678.1,551.9 678.5,552.1 679.5,552.5 680.5,553.0 681.5,553.5 682.5,553.9 683.5,554.3 684.5,554.7 685.5,555.1 686.5,555.5 687.5,555.8 688.5,556.1 689.5,556.4 690.5,556.7 691.5,556.9 691.8,556.9 692.5,557.0 693.5,557.1 694.5,557.2 695.5,557.3 696.5,557.4 697.5,557.5 698.5,557.6 699.5,557.6 700.5,557.7 701.5,557.8 702.5,557.9 703.5,558.0 704.5,558.1 705.5,558.3 706.5,558.5 707.5,558.9 708.5,559.4 709.5,560.0 710.5,560.6 711.5,561.3 712.5,562.1 713.5,562.8 714.5,563.6 715.5,564.4 716.5,565.1 717.5,565.8 718.5,566.5 719.5,567.3 720.5,568.1 721.5,568.9 722.5,569.7 723.5,570.5 724.5,571.3 725.5,572.2 726.5,573.0 727.5,573.9 728.5,574.8 729.5,575.8 730.5,576.7" fill="none" stroke="#7f7f7f" stroke-width="1.62" stroke-linejoin="round" stroke-dasharray="6.0 2.6"/>
<polyline points="99.3,519.2 100.3,519.2 101.3,519.2 102.3,519.2 103.3,519.2 104.3,519.2 105.3,519.2 106.3,519.2 107.3,519.2 108.3,519.2 109.3,519.2 110.3,519.2 111.3,519.2 112.3,519.2 113.3,519.2 114.3,519.2 115.3,519.1 116.3,519.0 117.3,518.9 118.3,518.8 119.3,518.7 120.3,518.7 121.3,518.7 122.3,518.8 123.3,518.8 124.3,518.9 125.3,519.0 126.3,519.1 127.3,519.2 128.3,519.3 129.3,519.4 130.3,519.5 131.3,519.6 132.3,519.6 133.1,519.6 133.3,519.6 134.3,519.6 135.3,519.6 136.3,519.6 137.3,519.6 138.3,519.5 139.3,519.5 140.3,519.5 141.3,519.5 142.3,519.5 143.3,519.4 144.3,519.4 145.3,519.3 146.3,519.3 147.3,519.3 148.3,519.2 149.3,519.2 150.3,519.1 151.3,519.1 152.3,519.0 153.3,519.0 154.3,518.9 155.3,518.9 156.3,518.8 157.3,518.8 158.3,518.7 159.3,518.6 160.3,518.5 161.3,518.4 162.3,518.3 163.3,518.2 164.3,518.1 165.3,517.9 166.3,517.8 167.3,517.7 168.3,517.6 169.3,517.5 170.3,517.4 171.3,517.3 172.3,517.1 173.3,517.0 174.3,516.8 175.3,516.7 176.3,516.6 177.3,516.5 178.3,516.4 179.3,516.4 179.8,516.4 180.3,516.4 181.3,516.4 182.3,516.5 183.3,516.5 184.3,516.6 185.3,516.7 186.3,516.8 187.3,516.8 188.3,516.9 189.3,517.0 190.3,517.0 191.3,517.1 192.3,517.1 192.6,517.1 193.3,517.1 194.3,517.0 195.3,516.9 196.3,516.8 197.3,516.6 198.3,516.5 199.3,516.3 200.3,516.1 201.3,515.9 202.3,515.7 203.3,515.5 204.3,515.4 205.3,515.3 206.3,515.2 206.6,515.2 207.3,515.2 208.3,515.1 209.3,515.1 210.3,515.1 211.3,515.1 212.3,515.0 213.3,515.0 214.3,515.0 215.3,515.0 216.3,515.0 217.1,515.0 217.3,515.0 218.3,515.0 219.3,515.1 220.3,515.1 221.3,515.2 222.3,515.3 223.3,515.4 224.3,515.5 225.3,515.6 226.3,515.7 227.3,515.8 228.3,515.9 229.3,515.9 229.9,515.9 230.3,515.9 231.3,515.9 232.3,515.9 233.3,515.8 234.3,515.8 235.3,515.8 236.3,515.7 237.3,515.7 238.3,515.6 239.3,515.6 240.3,515.5 241.3,515.4 242.3,515.4 243.3,515.3 244.3,515.3 245.3,515.2 246.3,515.1 247.3,515.1 248.3,515.0 248.5,515.0 249.3,515.0 250.3,514.9 251.3,514.8 252.3,514.8 253.3,514.7 254.3,514.7 255.3,514.6 256.3,514.6 257.3,514.5 258.3,514.4 258.7,514.4 259.3,514.4 260.3,514.3 261.3,514.2 262.3,514.1 263.3,514.1 264.3,514.0 265.3,513.9 266.3,513.8 267.3,513.7 268.3,513.6 269.3,513.5 270.3,513.4 271.3,513.3 272.3,513.2 273.3,513.1 274.3,513.0 275.3,512.8 275.5,512.8 276.3,512.7 277.3,512.5 278.3,512.4 279.3,512.2 280.3,512.0 281.3,511.8 282.3,511.5 283.3,511.3 284.3,511.1 285.3,510.9 286.3,510.7 286.6,510.6 287.3,510.5 288.3,510.2 289.3,510.0 290.3,509.8 291.3,509.6 292.3,509.4 293.3,509.2 294.3,509.0 295.3,508.7 296.3,508.5 297.3,508.3 298.3,508.1 299.3,507.8 300.3,507.6 301.3,507.3 301.5,507.3 302.3,507.1 303.3,506.9 304.3,506.6 305.3,506.3 306.3,506.1 307.3,505.8 308.3,505.6 309.3,505.3 310.3,505.0 311.3,504.7 312.3,504.5 313.3,504.2 314.3,503.9 315.3,503.6 316.3,503.3 317.3,503.0 318.3,502.8 319.3,502.5 320.3,502.2 321.3,501.9 322.2,501.6 322.3,501.6 323.3,501.3 324.3,501.0 325.3,500.6 326.3,500.3 327.3,500.0 328.3,499.7 329.3,499.4 330.3,499.0 331.3,498.7 332.3,498.4 332.5,498.3 333.3,498.0 334.3,497.7 335.3,497.3 336.3,497.0 337.3,496.6 338.3,496.3 339.3,496.0 340.0,495.8 340.3,495.7 341.3,495.4 342.3,495.1 343.3,494.8 344.3,494.5 345.3,494.2 346.3,493.9 347.3,493.7 348.3,493.5 349.3,493.3 350.3,493.2 351.3,493.1 351.9,493.1 352.3,493.1 353.3,493.1 354.3,493.1 355.3,493.1 356.3,493.1 357.3,493.1 358.3,493.1 359.3,493.1 360.3,493.1 361.3,493.1 362.3,493.1 363.3,493.1 364.3,493.1 365.3,493.1 365.9,493.1 366.3,493.1 367.3,493.1 368.3,493.1 369.3,493.1 370.3,493.1 371.3,493.1 372.3,493.1 373.3,493.1 374.3,493.1 375.3,493.1 376.3,493.1 377.3,493.1 377.6,493.1 378.3,493.1 379.3,493.0 380.3,492.8 381.3,492.6 382.3,492.3 383.3,492.0 384.3,491.7 385.3,491.4 386.3,491.0 386.9,490.8 387.3,490.6 388.3,490.2 389.3,489.6 390.3,488.9 391.3,488.3 392.3,487.6 393.3,487.1 393.9,486.8 394.3,486.6 395.3,486.3 396.3,485.9 397.3,485.6 398.3,485.3 399.3,485.0 400.3,484.7 401.3,484.4 402.3,484.1 403.2,483.8 403.3,483.8 404.3,483.4 405.3,483.1 406.3,482.8 407.3,482.4 407.9,482.1 408.3,481.9 409.3,481.2 410.3,480.4 411.3,479.5 412.3,478.6 413.3,477.8 413.5,477.6 414.3,477.0 415.3,476.3 416.3,475.6 417.3,474.9 418.3,474.1 419.3,473.4 420.3,472.7 420.7,472.4 421.3,471.9 422.3,471.0 423.3,470.1 424.3,469.3 425.3,468.6 425.9,468.3 426.3,468.2 427.3,467.9 428.3,467.6 429.3,467.4 430.3,467.2 431.1,467.0 431.3,466.9 432.3,466.6 433.3,466.3 434.3,466.0 435.3,465.8 436.3,465.7 437.3,465.8 438.3,466.0 439.3,466.2 439.9,466.4 440.3,466.5 441.3,467.1 442.3,467.8 443.3,468.5 444.3,469.4 445.3,470.1 445.6,470.3 446.3,470.7 447.3,471.4 448.3,472.0 449.3,472.6 450.3,473.2 451.3,473.7 451.8,474.0 452.3,474.3 453.3,474.7 454.3,475.1 455.3,475.6 456.0,476.0 456.3,476.2 457.3,477.0 458.3,478.0 459.3,479.0 460.3,480.1 461.3,481.0 462.2,481.7 462.3,481.8 463.3,482.4 464.3,483.0 465.3,483.5 466.3,484.0 467.3,484.4 468.3,484.9 469.3,485.4 470.3,485.8 470.5,485.9 471.3,486.3 472.3,486.7 473.3,487.1 474.3,487.5 475.3,487.9 476.3,488.3 477.3,488.7 478.3,489.1 479.3,489.6 480.0,490.0 480.3,490.2 481.3,490.9 482.3,491.5 483.3,492.0 484.3,492.5 485.3,493.0 486.3,493.4 487.3,493.7 488.3,493.9 489.3,494.0 490.3,494.0 491.3,493.9 492.3,493.8 493.3,493.7 494.3,493.5 495.3,493.3 496.3,493.1 497.3,492.9 498.3,492.7 498.6,492.6 499.3,492.4 500.3,492.0 501.3,491.4 502.3,490.9 503.3,490.3 504.3,489.8 505.3,489.4 506.3,489.1 506.8,489.1 507.3,489.1 508.3,489.4 509.3,489.9 510.3,490.6 511.3,491.3 512.3,492.0 513.3,492.6 514.3,493.0 514.9,493.1 515.3,493.1 516.3,493.2 517.3,493.3 518.3,493.4 519.3,493.4 520.3,493.4 521.3,493.5 522.3,493.5 523.3,493.6 524.3,493.6 525.3,493.7 526.3,493.8 526.6,493.8 527.3,493.9 528.3,494.2 529.3,494.5 530.3,495.0 531.3,495.5 532.3,496.1 533.3,496.8 534.3,497.4 535.3,498.1 535.9,498.5 536.3,498.8 537.3,499.6 538.3,500.5 539.3,501.5 540.3,502.5 541.3,503.6 542.3,504.7 543.3,505.8 544.3,506.9 545.2,507.8 545.3,507.9 546.3,508.9 547.3,509.9 548.3,510.9 549.3,511.9 550.3,512.9 551.3,513.8 552.3,514.8 553.3,515.7 554.3,516.6 555.3,517.5 556.3,518.3 556.9,518.7 557.3,519.0 558.3,519.7 559.3,520.5 560.3,521.2 561.3,521.9 562.3,522.5 563.3,523.0 564.3,523.4 565.0,523.6 565.3,523.7 566.3,523.9 567.3,524.1 568.3,524.3 569.3,524.5 570.3,524.6 571.3,524.7 572.3,524.8 573.2,524.8 573.3,524.8 574.3,524.8 575.3,524.7 576.3,524.6 577.3,524.5 578.3,524.3 579.3,524.2 580.3,524.0 581.3,523.8 582.3,523.6 582.5,523.6 583.3,523.4 584.3,523.2 585.3,522.9 586.3,522.6 587.3,522.2 588.3,521.9 589.3,521.5 590.2,521.2 590.3,521.2 591.3,520.8 592.3,520.4 593.3,519.9 594.3,519.5 595.3,519.0 596.3,518.6 597.3,518.3 598.3,518.1 599.3,517.9 599.8,517.9 600.3,517.9 601.3,518.0 602.3,518.1 603.3,518.4 604.3,518.6 605.3,518.9 606.3,519.3 607.3,519.7 608.3,520.1 609.3,520.5 610.3,521.0 610.8,521.2 611.3,521.4 612.3,522.1 613.3,522.9 614.3,523.8 615.3,524.8 616.3,525.9 617.3,527.0 618.3,528.0 619.3,529.0 620.3,529.8 621.3,530.5 621.8,530.8 622.3,531.1 623.3,531.5 624.3,531.9 625.3,532.3 626.3,532.6 627.3,532.9 628.3,533.2 629.3,533.5 630.3,533.9 631.3,534.2 632.3,534.7 632.8,534.9 633.3,535.2 634.3,535.7 635.3,536.3 636.3,537.0 637.3,537.7 638.3,538.5 639.3,539.3 640.3,540.1 641.3,540.9 642.3,541.7 642.4,541.8 643.3,542.6 644.3,543.5 645.3,544.4 646.3,545.4 647.3,546.4 648.3,547.4 649.3,548.5 650.3,549.5 651.3,550.6 652.3,551.6 653.3,552.7 654.3,553.7 654.7,554.1 655.3,554.7 656.3,555.8 657.3,556.8 658.3,557.9 659.3,559.0 660.3,560.1 661.3,561.1 662.3,562.1 663.3,562.9 664.3,563.7 664.4,563.8 665.3,564.4 666.3,565.1 667.3,565.8 668.3,566.5 669.3,567.1 670.3,567.7 671.3,568.2 672.3,568.7 673.3,569.1 674.3,569.5 675.3,569.8 676.3,570.0 677.3,570.2 678.3,570.4 679.3,570.5 680.3,570.6 681.3,570.8 682.3,570.9 683.3,571.1 683.6,571.2 684.3,571.4 685.3,571.7 686.3,572.1 687.3,572.6 688.3,573.0 689.3,573.4 690.3,573.8 691.3,574.1 691.8,574.2 692.3,574.3 693.3,574.5 694.3,574.6 695.3,574.7 696.3,574.8 697.3,574.9 698.3,575.0 699.3,575.1 700.3,575.2 701.3,575.3 702.3,575.5 702.8,575.6 703.3,575.7 704.3,576.0 705.3,576.3 706.3,576.7 707.3,577.1 708.3,577.6 709.3,578.0 710.3,578.5 711.0,578.9 711.3,579.1 712.3,579.6 713.3,580.3 714.3,581.0 715.3,581.7 716.3,582.5 717.3,583.3 717.9,583.8 718.3,584.1 719.3,585.0 720.3,585.9 721.3,586.8 722.3,587.8 723.3,588.8 724.3,589.8 725.3,590.9 726.3,592.0 727.3,593.2 727.5,593.4" fill="none" stroke="#779ade" stroke-width="1.62" stroke-linejoin="round"/>
<polyline points="99.3,510.3 100.3,510.6 101.3,510.7 102.3,510.8 102.8,510.8 103.3,510.8 104.3,510.5 105.3,510.0 106.3,509.6 107.3,509.4 107.5,509.4 108.3,509.4 109.3,509.6 110.3,509.8 111.3,510.1 112.3,510.2 113.3,510.3 114.3,510.3 115.3,510.2 116.3,510.1 117.3,509.9 118.3,509.8 119.3,509.6 120.3,509.4 121.3,509.2 122.3,509.1 123.3,509.0 124.3,508.9 125.0,508.9 125.3,508.9 126.3,508.9 127.3,508.9 128.3,508.9 129.3,509.0 130.3,509.0 131.3,509.0 132.3,509.1 133.3,509.1 134.3,509.1 135.3,509.1 135.5,509.1 136.3,509.1 137.3,508.9 138.3,508.6 139.3,508.3 140.3,507.9 141.3,507.5 142.3,507.2 143.3,507.0 144.3,506.8 144.8,506.8 145.3,506.8 146.3,506.8 147.3,506.9 148.3,507.0 149.3,507.1 150.3,507.2 151.3,507.4 152.3,507.5 153.3,507.7 154.3,507.8 155.3,508.0 156.3,508.1 157.3,508.2 157.6,508.2 158.3,508.3 159.3,508.3 160.3,508.4 161.3,508.5 162.3,508.5 163.3,508.6 164.3,508.6 165.3,508.7 166.3,508.7 167.3,508.8 168.3,508.9 169.3,508.9 170.3,509.0 171.3,509.1 171.6,509.1 172.3,509.2 173.3,509.3 174.3,509.4 175.3,509.5 176.3,509.7 177.3,509.8 178.3,510.0 179.3,510.1 180.3,510.3 181.3,510.4 182.3,510.6 183.3,510.7 184.3,510.8 185.3,510.9 186.3,511.0 187.3,511.0 187.9,511.0 188.3,511.0 189.3,510.9 190.3,510.7 191.3,510.6 192.3,510.5 192.6,510.5 193.3,510.6 194.3,510.9 195.3,511.4 196.3,511.7 197.3,511.9 198.3,511.9 199.3,511.8 200.3,511.8 201.3,511.7 202.3,511.6 203.3,511.5 204.3,511.4 205.3,511.4 206.3,511.3 207.3,511.2 208.3,511.2 208.9,511.2 209.3,511.2 210.3,511.3 211.3,511.6 212.3,511.8 213.3,512.1 214.3,512.4 215.3,512.7 216.3,512.9 217.1,512.9 217.3,512.9 218.3,512.5 219.3,511.8 220.3,511.1 221.3,510.6 221.7,510.5 222.3,510.4 223.3,510.3 224.3,510.2 225.3,510.1 226.3,510.1 227.3,510.0 228.3,509.9 229.3,509.9 230.3,509.8 231.3,509.8 232.3,509.7 233.3,509.7 234.3,509.7 235.3,509.6 236.3,509.6 237.3,509.6 238.3,509.6 239.2,509.6 239.3,509.6 240.3,509.6 241.3,509.6 242.3,509.6 243.3,509.6 244.3,509.6 245.3,509.6 246.3,509.6 247.3,509.6 248.3,509.6 249.3,509.6 250.3,509.6 251.3,509.6 252.3,509.6 253.3,509.6 254.3,509.6 255.3,509.6 256.3,509.6 257.3,509.6 258.3,509.6 258.7,509.6 259.3,509.6 260.3,509.6 261.3,509.5 262.3,509.4 263.3,509.3 264.3,509.2 265.3,509.1 266.3,509.0 267.3,508.9 268.3,508.8 269.3,508.7 270.3,508.7 271.3,508.6 272.3,508.6 272.6,508.6 273.3,509.1 274.3,510.8 275.3,512.5 276.1,513.1 276.3,513.1 277.3,512.0 278.3,510.3 279.3,509.0 279.7,508.8 280.3,508.7 281.3,508.6 282.3,508.5 283.3,508.4 284.3,508.4 285.3,508.3 286.3,508.3 287.3,508.2 288.3,508.2 289.3,508.2 290.3,508.1 291.3,508.1 292.3,508.1 293.3,508.0 294.3,508.0 295.3,508.0 296.3,508.0 297.3,507.9 298.3,507.9 299.3,507.8 300.3,507.8 301.3,507.7 301.5,507.7 302.3,507.6 303.3,507.5 304.3,507.4 305.3,507.3 306.3,507.1 307.3,507.0 308.3,506.8 309.3,506.6 310.3,506.5 311.3,506.3 312.3,506.1 313.3,505.9 314.3,505.8 315.3,505.6 316.3,505.4 317.3,505.3 318.3,505.2 319.3,505.0 320.3,504.9 321.3,504.9 322.2,504.8 322.3,504.8 323.3,504.7 324.3,504.7 325.3,504.6 326.3,504.6 327.3,504.6 327.4,504.6 328.3,504.6 329.3,504.6 330.3,504.7 331.3,504.8 332.3,504.8 333.3,504.9 334.3,505.0 335.3,505.1 336.3,505.2 337.3,505.3 338.3,505.4 339.3,505.5 340.0,505.6 340.3,505.6 341.3,505.8 342.3,505.9 343.3,506.0 344.3,506.1 344.9,506.1 345.3,506.1 346.3,506.1 347.3,506.1 348.3,506.1 349.3,506.0 350.3,506.0 351.3,506.0 352.3,505.9 353.3,505.9 354.3,505.9 355.3,505.8 356.3,505.8 357.3,505.7 358.3,505.7 359.3,505.7 360.3,505.6 361.3,505.6 362.3,505.5 363.3,505.5 364.3,505.4 365.3,505.4 365.9,505.4 366.3,505.4 367.3,505.4 368.3,505.3 369.3,505.3 370.3,505.3 371.3,505.3 372.3,505.3 373.3,505.2 374.3,505.2 375.3,505.2 376.3,505.2 377.3,505.2 378.3,505.1 379.3,505.1 380.3,505.1 381.3,505.0 382.2,505.0 382.3,505.0 383.3,504.9 384.3,504.8 385.3,504.7 386.3,504.5 387.3,504.4 388.3,504.3 389.2,504.3 389.3,504.3 390.3,504.4 391.3,504.5 392.3,504.6 393.3,504.7 393.9,504.7 394.3,504.7 395.3,504.6 396.3,504.3 397.3,504.0 398.3,503.6 399.3,503.1 400.3,502.6 401.3,502.1 402.3,501.6 403.2,501.2 403.3,501.2 404.3,500.7 405.3,500.1 406.3,499.5 407.3,498.9 408.3,498.3 409.3,497.7 410.0,497.3 410.3,497.1 411.3,496.5 412.3,495.8 413.3,495.2 414.3,494.5 415.3,493.9 416.3,493.3 417.3,492.9 418.2,492.6 418.3,492.6 419.3,492.3 420.3,492.1 421.3,491.9 422.3,491.7 423.3,491.6 424.3,491.4 425.3,491.3 426.3,491.2 427.3,491.1 428.3,491.0 429.3,491.0 430.3,490.9 431.3,490.8 432.3,490.7 433.3,490.7 434.3,490.6 435.3,490.6 436.3,490.5 437.3,490.5 438.3,490.5 439.1,490.5 439.3,490.5 440.3,490.6 441.3,490.7 442.3,491.0 443.3,491.3 444.3,491.6 445.3,491.9 446.3,492.2 447.3,492.6 448.3,492.8 449.3,493.0 449.6,493.1 450.3,493.2 451.3,493.4 452.3,493.5 453.3,493.7 454.3,493.8 455.3,493.8 455.5,493.8 456.3,493.7 457.3,493.5 458.3,493.2 459.3,493.1 459.4,493.1 460.3,493.5 461.3,494.6 462.3,495.8 463.3,496.7 463.6,496.8 464.3,497.0 465.3,497.2 466.3,497.4 467.3,497.5 468.3,497.6 469.3,497.7 470.3,497.8 471.3,497.9 472.3,498.1 473.0,498.2 473.3,498.3 474.3,498.5 475.3,498.8 476.3,499.1 477.3,499.4 478.3,499.7 479.3,499.9 480.3,500.1 481.1,500.1 481.3,500.1 482.3,500.1 483.3,500.1 484.3,500.1 484.6,500.1 485.3,500.2 486.3,500.4 487.3,500.7 488.3,501.1 489.3,501.4 490.3,501.7 491.3,501.9 491.6,501.9 492.3,501.9 493.3,501.9 494.3,501.8 495.3,501.7 496.3,501.7 497.3,501.6 498.3,501.5 499.3,501.4 500.3,501.3 501.3,501.2 502.3,501.1 503.3,501.1 504.3,501.0 505.3,501.0 505.6,501.0 506.3,501.0 507.3,501.2 508.3,501.5 509.3,501.8 510.3,502.2 511.3,502.6 512.3,503.0 513.3,503.4 514.3,503.8 515.3,504.1 516.3,504.2 517.2,504.3 517.3,504.3 518.3,504.2 519.3,504.1 520.3,503.9 521.3,503.6 522.3,503.3 523.3,503.0 524.3,502.7 525.3,502.4 526.3,502.2 527.3,502.0 528.3,501.9 528.9,501.9 529.3,501.9 530.3,502.0 531.3,502.1 532.3,502.2 533.3,502.4 534.3,502.6 535.3,502.9 536.3,503.1 537.3,503.4 538.2,503.6 538.3,503.6 539.3,503.9 540.3,504.1 541.3,504.4 542.3,504.8 543.3,505.1 544.3,505.4 545.3,505.8 546.3,506.1 547.3,506.5 547.6,506.6 548.3,506.8 549.3,507.2 550.3,507.6 551.3,507.9 552.3,508.3 553.3,508.7 554.3,509.1 555.3,509.5 556.3,510.0 557.3,510.4 558.3,510.9 559.2,511.3 559.3,511.3 560.3,511.9 561.3,512.5 562.3,513.1 563.3,513.8 564.3,514.4 565.3,515.1 566.3,515.8 567.3,516.4 568.3,517.0 568.5,517.1 569.3,517.5 570.3,518.1 571.3,518.6 572.3,519.1 573.3,519.7 574.3,520.2 575.3,520.7 576.3,521.1 577.3,521.6 578.3,522.1 579.3,522.5 580.2,522.9 580.3,522.9 581.3,523.4 582.3,523.8 583.3,524.3 584.3,524.8 585.3,525.2 586.3,525.6 587.3,526.0 588.3,526.3 589.3,526.5 590.2,526.7 590.3,526.7 591.3,526.8 592.3,526.9 593.3,527.0 594.3,527.1 595.3,527.2 596.3,527.2 597.3,527.3 598.3,527.4 599.3,527.4 600.3,527.4 601.3,527.5 602.3,527.5 603.3,527.6 604.3,527.7 605.3,527.7 606.3,527.8 607.3,527.9 608.3,528.0 609.3,528.1 609.4,528.1 610.3,528.2 611.3,528.5 612.3,528.8 613.3,529.1 614.3,529.5 615.3,529.9 616.3,530.3 617.3,530.7 618.3,531.0 619.3,531.3 620.3,531.5 621.3,531.6 621.8,531.6 622.3,531.6 623.3,531.5 624.3,531.4 625.3,531.2 626.3,531.0 627.3,530.8 628.3,530.6 629.3,530.5 630.3,530.3 631.3,530.3 631.4,530.3 632.3,530.3 633.3,530.4 634.3,530.5 635.3,530.6 636.3,530.8 637.3,531.0 638.3,531.2 639.3,531.5 640.3,531.7 641.3,532.0 642.3,532.2 643.3,532.5 644.3,532.8 645.1,533.0 645.3,533.1 646.3,533.3 647.3,533.6 648.3,534.0 649.3,534.3 650.3,534.7 651.3,535.0 652.3,535.4 653.3,535.8 654.3,536.3 655.3,536.7 656.1,537.1 656.3,537.2 657.3,537.7 658.3,538.3 659.3,538.8 660.3,539.5 661.3,540.1 662.3,540.8 663.3,541.5 664.3,542.2 665.3,542.9 666.3,543.6 667.3,544.3 668.3,545.0 669.3,545.6 669.8,545.9 670.3,546.2 671.3,546.8 672.3,547.5 673.3,548.1 674.3,548.8 675.3,549.4 676.3,550.0 677.3,550.6 678.3,551.2 679.3,551.6 680.3,552.0 680.8,552.2 681.3,552.4 682.3,552.7 683.3,553.0 684.3,553.3 685.3,553.6 686.3,553.9 687.3,554.1 688.3,554.3 689.3,554.5 690.3,554.6 691.3,554.7 691.8,554.7 692.3,554.7 693.3,554.5 694.3,554.2 695.3,553.8 696.3,553.4 697.3,552.9 698.3,552.5 699.3,552.1 700.1,551.9 700.3,551.9 701.3,551.6 702.3,551.4 703.3,551.2 704.3,551.0 705.3,550.9 706.3,550.8 706.9,550.8 707.3,550.8 708.3,551.1 709.3,551.7 710.3,552.5 711.3,553.4 712.3,554.3 713.3,555.1 713.8,555.5 714.3,555.9 715.3,556.6 716.3,557.3 717.3,558.0 718.3,558.7 719.3,559.5 720.3,560.2 721.3,560.9 722.3,561.7 723.3,562.5 724.3,563.2 725.3,564.0 726.3,564.8 727.3,565.5 727.5,565.7" fill="none" stroke="#f3a479" stroke-width="1.62" stroke-linejoin="round"/>
<rect x="77.9" y="88.4" width="423.7" height="83.3" rx="3.2" ry="3.2" fill="#ffffff" fill-opacity="0.8" stroke="#cccccc" stroke-opacity="0.85" stroke-width="1.2"/>
<line x1="84.0" y1="102.0" x2="120.6" y2="102.0" stroke="#7f7f7f" stroke-width="1.62" stroke-dasharray="6.0 2.6"/>
<line x1="84.0" y1="127.9" x2="120.6" y2="127.9" stroke="#779ade" stroke-width="1.62"/>
<line x1="84.0" y1="154.2" x2="120.6" y2="154.2" stroke="#f3a479" stroke-width="1.62"/>
<text x="135.2" y="107.8" font-family="'Liberation Serif', serif" font-size="18.2" text-anchor="start" fill="#303030" stroke="#303030" stroke-width="0.2" textLength="358.0" lengthAdjust="spacingAndGlyphs">new<tspan dy="2.6">_</tspan><tspan dy="-2.6">archaeo</tspan><tspan dy="2.6">_</tspan><tspan dy="-2.6">colmap</tspan><tspan dy="2.6">_</tspan><tspan dy="-2.6">traj</tspan><tspan dy="2.6">_</tspan><tspan dy="-2.6">sequence</tspan><tspan dy="2.6">_</tspan><tspan dy="-2.6">05</tspan></text>
<text x="135.2" y="133.6" font-family="'Liberation Serif', serif" font-size="18.2" text-anchor="start" fill="#303030" stroke="#303030" stroke-width="0.2" textLength="41.5" lengthAdjust="spacingAndGlyphs">Ours</text>
<text x="135.2" y="159.8" font-family="'Liberation Serif', serif" font-size="18.2" text-anchor="start" fill="#303030" stroke="#303030" stroke-width="0.2" textLength="116.0" lengthAdjust="spacingAndGlyphs">VINS-MONO</text>
<rect x="68.0" y="10.6" width="694.2" height="170.3" fill="none" stroke="#444444" stroke-width="1.5"/>
<rect x="68.0" y="220.7" width="694.2" height="170.3" fill="none" stroke="#444444" stroke-width="1.5"/>
<rect x="68.0" y="431.2" width="694.2" height="170.2" fill="none" stroke="#444444" stroke-width="1.5"/>
<text x="57.0" y="31.8" font-family="'Liberation Serif', serif" font-size="19.0" text-anchor="end" fill="#303030" stroke="#303030" stroke-width="0.2" textLength="9.6" lengthAdjust="spacingAndGlyphs">5</text>
<text x="57.0" y="92.3" font-family="'Liberation Serif', serif" font-size="19.0" text-anchor="end" fill="#303030" stroke="#303030" stroke-width="0.2" textLength="9.6" lengthAdjust="spacingAndGlyphs">0</text>
<text x="57.0" y="152.2" font-family="'Liberation Serif', serif" font-size="19.0" text-anchor="end" fill="#303030" stroke="#303030" stroke-width="0.2" textLength="24.1" lengthAdjust="spacingAndGlyphs">−5</text>
<text x="57.0" y="301.8" font-family="'Liberation Serif', serif" font-size="19.0" text-anchor="end" fill="#303030" stroke="#303030" stroke-width="0.2" textLength="9.6" lengthAdjust="spacingAndGlyphs">0</text>
<text x="57.0" y="386.3" font-family="'Liberation Serif', serif" font-size="19.0" text-anchor="end" fill="#303030" stroke="#303030" stroke-width="0.2" textLength="24.1" lengthAdjust="spacingAndGlyphs">−5</text>
<text x="57.0" y="447.6" font-family="'Liberation Serif', serif" font-size="19.0" text-anchor="end" fill="#303030" stroke="#303030" stroke-width="0.2" textLength="9.6" lengthAdjust="spacingAndGlyphs">2</text>
<text x="57.0" y="527.6" font-family="'Liberation Serif', serif" font-size="19.0" text-anchor="end" fill="#303030" stroke="#303030" stroke-width="0.2" textLength="9.6" lengthAdjust="spacingAndGlyphs">0</text>
<text x="113.5" y="625.2" font-family="'Liberation Serif', serif" font-size="19.0" text-anchor="middle" fill="#303030" stroke="#303030" stroke-width="0.2" textLength="32.6" lengthAdjust="spacingAndGlyphs">200</text>
<text x="200.2" y="625.2" font-family="'Liberation Serif', serif" font-size="19.0" text-anchor="middle" fill="#303030" stroke="#303030" stroke-width="0.2" textLength="32.6" lengthAdjust="spacingAndGlyphs">225</text>
<text x="286.9" y="625.2" font-family="'Liberation Serif', serif" font-size="19.0" text-anchor="middle" fill="#303030" stroke="#303030" stroke-width="0.2" textLength="32.6" lengthAdjust="spacingAndGlyphs">250</text>
<text x="373.6" y="625.2" font-family="'Liberation Serif', serif" font-size="19.0" text-anchor="middle" fill="#303030" stroke="#303030" stroke-width="0.2" textLength="32.6" lengthAdjust="spacingAndGlyphs">275</text>
<text x="460.3" y="625.2" font-family="'Liberation Serif', serif" font-size="19.0" text-anchor="middle" fill="#303030" stroke="#303030" stroke-width="0.2" textLength="32.6" lengthAdjust="spacingAndGlyphs">300</text>
<text x="547.0" y="625.2" font-family="'Liberation Serif', serif" font-size="19.0" text-anchor="middle" fill="#303030" stroke="#303030" stroke-width="0.2" textLength="32.6" lengthAdjust="spacingAndGlyphs">325</text>
<text x="633.7" y="625.2" font-family="'Liberation Serif', serif" font-size="19.0" text-anchor="middle" fill="#303030" stroke="#303030" stroke-width="0.2" textLength="32.6" lengthAdjust="spacingAndGlyphs">350</text>
<text x="720.4" y="625.2" font-family="'Liberation Serif', serif" font-size="19.0" text-anchor="middle" fill="#303030" stroke="#303030" stroke-width="0.2" textLength="32.6" lengthAdjust="spacingAndGlyphs">375</text>
<text x="761.4" y="645.4" font-family="'Liberation Serif', serif" font-size="19.0" text-anchor="end" fill="#303030" stroke="#303030" stroke-width="0.2" textLength="121.2" lengthAdjust="spacingAndGlyphs">+1.455214e9</text>
<text x="396.2" y="648.7" font-family="'Liberation Sans', serif" font-size="20.3" text-anchor="start" fill="#303030" stroke="#303030" stroke-width="0.2" textLength="6.6" lengthAdjust="spacingAndGlyphs" font-style="italic">t</text>
<text x="410.4" y="648.1" font-family="'Liberation Serif', serif" font-size="19.0" text-anchor="start" fill="#303030" stroke="#303030" stroke-width="0.2" textLength="6.6" lengthAdjust="spacingAndGlyphs">(</text>
<text x="417.0" y="648.7" font-family="'Liberation Serif', serif" font-size="20.6" text-anchor="start" fill="#303030" stroke="#303030" stroke-width="0.2" textLength="10.0" lengthAdjust="spacingAndGlyphs">s</text>
<text x="427.6" y="648.1" font-family="'Liberation Serif', serif" font-size="19.0" text-anchor="start" fill="#303030" stroke="#303030" stroke-width="0.2" textLength="6.6" lengthAdjust="spacingAndGlyphs">)</text>
<g transform="translate(21.0,95.8) rotate(-90)"><text x="-25.0" y="0" font-family="'Liberation Sans', serif" font-size="18.6" text-anchor="start" fill="#303030" stroke="#303030" stroke-width="0.2" textLength="10.6" lengthAdjust="spacingAndGlyphs" font-style="italic">x</text><text x="-7.4" y="-0.9" font-family="'Liberation Serif', serif" font-size="18.7" text-anchor="start" fill="#303030" stroke="#303030" stroke-width="0.2" textLength="6.4" lengthAdjust="spacingAndGlyphs">(</text><text x="-1.4" y="0" font-family="'Liberation Serif', serif" font-size="20.6" text-anchor="start" fill="#303030" stroke="#303030" stroke-width="0.2" textLength="20.8" lengthAdjust="spacingAndGlyphs">m</text><text x="19.2" y="-0.9" font-family="'Liberation Serif', serif" font-size="18.7" text-anchor="start" fill="#303030" stroke="#303030" stroke-width="0.2" textLength="6.4" lengthAdjust="spacingAndGlyphs">)</text></g>
<g transform="translate(21.0,306.0) rotate(-90)"><text x="-25.3" y="0" font-family="'Liberation Sans', serif" font-size="18.6" text-anchor="start" fill="#303030" stroke="#303030" stroke-width="0.2" textLength="10.6" lengthAdjust="spacingAndGlyphs" font-style="italic">y</text><text x="-7.4" y="-0.9" font-family="'Liberation Serif', serif" font-size="18.7" text-anchor="start" fill="#303030" stroke="#303030" stroke-width="0.2" textLength="6.4" lengthAdjust="spacingAndGlyphs">(</text><text x="-1.4" y="0" font-family="'Liberation Serif', serif" font-size="20.6" text-anchor="start" fill="#303030" stroke="#303030" stroke-width="0.2" textLength="20.8" lengthAdjust="spacingAndGlyphs">m</text><text x="19.2" y="-0.9" font-family="'Liberation Serif', serif" font-size="18.7" text-anchor="start" fill="#303030" stroke="#303030" stroke-width="0.2" textLength="6.4" lengthAdjust="spacingAndGlyphs">)</text></g>
<g transform="translate(37.0,516.9) rotate(-90)"><text x="-25.2" y="0" font-family="'Liberation Sans', serif" font-size="18.6" text-anchor="start" fill="#303030" stroke="#303030" stroke-width="0.2" textLength="10.2" lengthAdjust="spacingAndGlyphs" font-style="italic">z</text><text x="-7.4" y="-0.9" font-family="'Liberation Serif', serif" font-size="18.7" text-anchor="start" fill="#303030" stroke="#303030" stroke-width="0.2" textLength="6.4" lengthAdjust="spacingAndGlyphs">(</text><text x="-1.4" y="0" font-family="'Liberation Serif', serif" font-size="20.6" text-anchor="start" fill="#303030" stroke="#303030" stroke-width="0.2" textLength="20.8" lengthAdjust="spacingAndGlyphs">m</text><text x="19.2" y="-0.9" font-family="'Liberation Serif', serif" font-size="18.7" text-anchor="start" fill="#303030" stroke="#303030" stroke-width="0.2" textLength="6.4" lengthAdjust="spacingAndGlyphs">)</text></g>
</svg>
</body>
</html>
